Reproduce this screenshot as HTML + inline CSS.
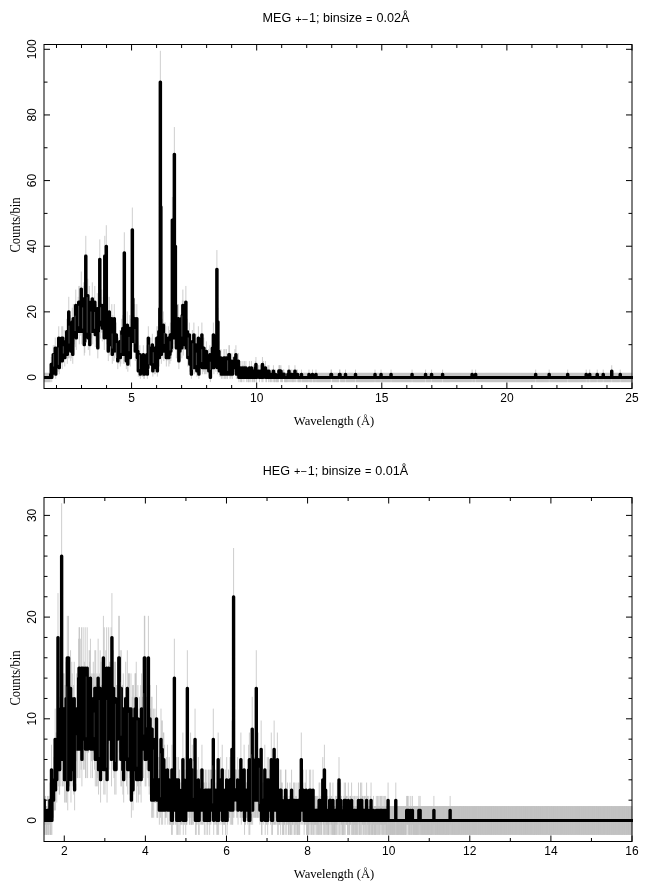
<!DOCTYPE html>
<html><head><meta charset="utf-8"><title>HETG spectra</title>
<style>
html,body{margin:0;padding:0;background:#fff;}
svg{display:block}
.t{font-family:"Liberation Sans",Arial,Helvetica,sans-serif;font-size:12px;fill:#000}
.s{font-family:"Liberation Serif","Times New Roman",Times,serif;font-size:12.6px;fill:#000}
.h{font-family:"Liberation Sans",Arial,Helvetica,sans-serif;font-size:12.6px;fill:#000}
</style></head><body>
<svg width="649" height="891" viewBox="0 0 649 891">
<rect width="649" height="891" fill="#fff"/>
<text class="h" x="336" y="22" text-anchor="middle">MEG <tspan font-size="11" dx="0.5" dy="0.7">+−</tspan><tspan dx="0.8" dy="-0.7">1; binsize </tspan><tspan font-size="11" dx="0.5" dy="0.7">=</tspan><tspan dx="0.5" dy="-0.7"> 0.02Å</tspan></text>
<svg x="44" y="44.5" width="589" height="344" viewBox="44 44.5 589 344">
<path d="M44.25 372.86V382.14M44.75 372.86V382.14M45.25 372.86V382.14M45.75 372.86V382.14M46.25 372.86V382.14M46.75 372.86V382.14M47.25 372.86V382.14M47.75 372.86V382.14M48.25 372.86V382.14M48.75 372.86V382.14M49.25 372.86V382.14M49.75 372.86V382.14M50.26 372.86V382.14M50.76 369.58V378.86M51.26 357.03V371.71M51.76 372.86V382.14M52.26 369.58V378.86M52.76 357.03V371.71M53.26 345.24V363.81M53.76 365.25V376.62M54.26 353.05V369.13M54.76 345.24V363.81M55.26 337.58V358.34M55.76 369.58V378.86M56.26 349.12V366.49M56.76 357.03V371.71M57.26 337.58V358.34M57.76 353.05V369.13M58.26 357.03V371.71M58.76 326.28V349.95M59.26 361.09V374.22M59.76 337.58V358.34M60.26 345.24V363.81M60.76 349.12V366.49M61.26 345.24V363.81M61.77 326.28V349.95M62.27 353.05V369.13M62.77 326.28V349.95M63.27 337.58V358.34M63.77 337.58V358.34M64.27 330.03V352.77M64.77 349.12V366.49M65.27 337.58V358.34M65.77 337.58V358.34M66.27 337.58V358.34M66.77 318.84V344.26M67.27 345.24V363.81M67.77 337.58V358.34M68.27 337.58V358.34M68.77 296.82V326.9M69.27 337.58V358.34M69.77 322.55V347.11M70.27 315.14V341.4M70.77 341.4V361.09M71.27 337.58V358.34M71.77 333.79V355.57M72.27 307.78V335.63M72.77 345.24V363.81M73.27 304.12V332.73M73.78 304.12V332.73M74.28 318.84V344.26M74.78 315.14V341.4M75.28 322.55V347.11M75.78 289.56V321.04M76.28 326.28V349.95M76.78 311.46V338.52M77.28 307.78V335.63M77.78 307.78V335.63M78.28 296.82V326.9M78.78 285.94V318.09M79.28 318.84V344.26M79.78 285.94V318.09M80.28 296.82V326.9M80.78 307.78V335.63M81.28 271.52V306.25M81.78 318.84V344.26M82.28 296.82V326.9M82.78 300.46V329.82M83.28 285.94V318.09M83.78 282.32V315.14M84.28 333.79V355.57M84.78 330.03V352.77M85.29 318.84V344.26M85.79 235.83V276.3M86.29 304.12V332.73M86.79 307.78V335.63M87.29 300.46V329.82M87.79 278.72V312.18M88.29 326.28V349.95M88.79 296.82V326.9M89.29 285.94V318.09M89.79 333.79V355.57M90.29 300.46V329.82M90.79 300.46V329.82M91.29 300.46V329.82M91.79 311.46V338.52M92.29 282.32V315.14M92.79 318.84V344.26M93.29 300.46V329.82M93.79 300.46V329.82M94.29 296.82V326.9M94.79 285.94V318.09M95.29 322.55V347.11M95.79 315.14V341.4M96.29 304.12V332.73M96.79 307.78V335.63M97.3 293.18V323.97M97.8 337.58V358.34M98.3 318.84V344.26M98.8 300.46V329.82M99.3 300.46V329.82M99.8 239.38V279.31M100.3 311.46V338.52M100.8 296.82V326.9M101.3 304.12V332.73M101.8 289.56V321.04M102.3 315.14V341.4M102.8 304.12V332.73M103.3 296.82V326.9M103.8 289.56V321.04M104.3 326.28V349.95M104.8 235.83V276.3M105.3 311.46V338.52M105.8 307.78V335.63M106.3 225.2V267.24M106.8 318.84V344.26M107.3 326.28V349.95M107.8 296.82V326.9M108.3 341.4V361.09M108.81 315.14V341.4M109.31 296.82V326.9M109.81 333.79V355.57M110.31 318.84V344.26M110.81 315.14V341.4M111.31 322.55V347.11M111.81 304.12V332.73M112.31 345.24V363.81M112.81 315.14V341.4M113.31 326.28V349.95M113.81 341.4V361.09M114.31 304.12V332.73M114.81 337.58V358.34M115.31 333.79V355.57M115.81 326.28V349.95M116.31 322.55V347.11M116.81 341.4V361.09M117.31 333.79V355.57M117.81 353.05V369.13M118.31 337.58V358.34M118.81 345.24V363.81M119.31 341.4V361.09M119.81 330.03V352.77M120.31 349.12V366.49M120.82 345.24V363.81M121.32 330.03V352.77M121.82 318.84V344.26M122.32 318.84V344.26M122.82 315.14V341.4M123.32 345.24V363.81M123.82 341.4V361.09M124.32 232.29V273.28M124.82 345.24V363.81M125.32 337.58V358.34M125.82 333.79V355.57M126.32 353.05V369.13M126.82 345.24V363.81M127.32 311.46V338.52M127.82 357.03V371.71M128.32 345.24V363.81M128.82 326.28V349.95M129.32 326.28V349.95M129.82 315.14V341.4M130.32 349.12V366.49M130.82 318.84V344.26M131.32 330.03V352.77M131.82 322.55V347.11M132.33 207.55V252.07M132.83 282.32V315.14M133.33 315.14V341.4M133.83 330.03V352.77M134.33 315.14V341.4M134.83 304.12V332.73M135.33 341.4V361.09M135.83 318.84V344.26M136.33 318.84V344.26M136.83 304.12V332.73M137.33 349.12V366.49M137.83 341.4V361.09M138.33 365.25V376.62M138.83 353.05V369.13M139.33 365.25V376.62M139.83 345.24V363.81M140.33 369.58V378.86M140.83 361.09V374.22M141.33 353.05V369.13M141.83 361.09V374.22M142.33 365.25V376.62M142.83 365.25V376.62M143.33 345.24V363.81M143.83 369.58V378.86M144.34 369.58V378.86M144.84 357.03V371.71M145.34 357.03V371.71M145.84 361.09V374.22M146.34 361.09V374.22M146.84 345.24V363.81M147.34 369.58V378.86M147.84 361.09V374.22M148.34 326.28V349.95M148.84 353.05V369.13M149.34 345.24V363.81M149.84 337.58V358.34M150.34 345.24V363.81M150.84 337.58V358.34M151.34 357.03V371.71M151.84 345.24V363.81M152.34 333.79V355.57M152.84 365.25V376.62M153.34 345.24V363.81M153.84 349.12V366.49M154.34 361.09V374.22M154.84 337.58V358.34M155.34 361.09V374.22M155.85 349.12V366.49M156.35 345.24V363.81M156.85 326.28V349.95M157.35 365.25V376.62M157.85 326.28V349.95M158.35 330.03V352.77M158.85 318.84V344.26M159.35 349.12V366.49M159.85 293.18V323.97M160.35 50.81V113.43M160.85 182.94V230.73M161.35 345.24V363.81M161.85 322.55V347.11M162.35 318.84V344.26M162.85 337.58V358.34M163.35 311.46V338.52M163.85 341.4V361.09M164.35 322.55V347.11M164.85 333.79V355.57M165.35 322.55V347.11M165.85 326.28V349.95M166.35 349.12V366.49M166.85 341.4V361.09M167.35 333.79V355.57M167.86 337.58V358.34M168.36 326.28V349.95M168.86 349.12V366.49M169.36 330.03V352.77M169.86 345.24V363.81M170.36 322.55V347.11M170.86 341.4V361.09M171.36 337.58V358.34M171.86 322.55V347.11M172.36 196.99V242.94M172.86 260.77V297.31M173.36 326.28V349.95M173.86 318.84V344.26M174.36 127.06V181.59M174.86 311.46V338.52M175.36 225.2V267.24M175.86 289.56V321.04M176.36 337.58V358.34M176.86 322.55V347.11M177.36 322.55V347.11M177.86 333.79V355.57M178.36 304.12V332.73M178.86 353.05V369.13M179.37 318.84V344.26M179.87 341.4V361.09M180.37 315.14V341.4M180.87 315.14V341.4M181.37 304.12V332.73M181.87 337.58V358.34M182.37 300.46V329.82M182.87 289.56V321.04M183.37 333.79V355.57M183.87 300.46V329.82M184.37 326.28V349.95M184.87 326.28V349.95M185.37 307.78V335.63M185.87 285.94V318.09M186.37 337.58V358.34M186.87 333.79V355.57M187.37 318.84V344.26M187.87 349.12V366.49M188.37 345.24V363.81M188.87 337.58V358.34M189.37 322.55V347.11M189.87 357.03V371.71M190.37 345.24V363.81M190.87 333.79V355.57M191.38 369.58V378.86M191.88 353.05V369.13M192.38 330.03V352.77M192.88 333.79V355.57M193.38 345.24V363.81M193.88 322.55V347.11M194.38 361.09V374.22M194.88 353.05V369.13M195.38 353.05V369.13M195.88 333.79V355.57M196.38 361.09V374.22M196.88 365.25V376.62M197.38 341.4V361.09M197.88 353.05V369.13M198.38 326.28V349.95M198.88 369.58V378.86M199.38 353.05V369.13M199.88 345.24V363.81M200.38 345.24V363.81M200.88 345.24V363.81M201.38 345.24V363.81M201.88 322.55V347.11M202.38 361.09V374.22M202.89 337.58V358.34M203.39 357.03V371.71M203.89 337.58V358.34M204.39 361.09V374.22M204.89 353.05V369.13M205.39 361.09V374.22M205.89 357.03V371.71M206.39 341.4V361.09M206.89 361.09V374.22M207.39 357.03V371.71M207.89 357.03V371.71M208.39 349.12V366.49M208.89 365.25V376.62M209.39 361.09V374.22M209.89 345.24V363.81M210.39 372.86V382.14M210.89 361.09V374.22M211.39 361.09V374.22M211.89 353.05V369.13M212.39 337.58V358.34M212.89 349.12V366.49M213.39 322.55V347.11M213.89 361.09V374.22M214.39 341.4V361.09M214.9 337.58V358.34M215.4 333.79V355.57M215.9 357.03V371.71M216.4 349.12V366.49M216.9 250.06V288.33M217.4 361.09V374.22M217.9 307.78V335.63M218.4 357.03V371.71M218.9 341.4V361.09M219.4 365.25V376.62M219.9 361.09V374.22M220.4 365.25V376.62M220.9 349.12V366.49M221.4 369.58V378.86M221.9 365.25V376.62M222.4 357.03V371.71M222.9 369.58V378.86M223.4 361.09V374.22M223.9 349.12V366.49M224.4 369.58V378.86M224.9 349.12V366.49M225.4 369.58V378.86M225.9 361.09V374.22M226.41 349.12V366.49M226.91 369.58V378.86M227.41 369.58V378.86M227.91 361.09V374.22M228.41 361.09V374.22M228.91 345.24V363.81M229.41 345.24V363.81M229.91 369.58V378.86M230.41 365.25V376.62M230.91 369.58V378.86M231.41 365.25V376.62M231.91 353.05V369.13M232.41 369.58V378.86M232.91 357.03V371.71M233.41 357.03V371.71M233.91 357.03V371.71M234.41 357.03V371.71M234.91 349.12V366.49M235.41 361.09V374.22M235.91 345.24V363.81M236.41 369.58V378.86M236.91 361.09V374.22M237.41 361.09V374.22M237.91 369.58V378.86M238.42 353.05V369.13M238.92 372.86V382.14M239.42 365.25V376.62M239.92 369.58V378.86M240.42 372.86V382.14M240.92 361.09V374.22M241.42 372.86V382.14M241.92 372.86V382.14M242.42 365.25V376.62M242.92 361.09V374.22M243.42 365.25V376.62M243.92 372.86V382.14M244.42 361.09V374.22M244.92 369.58V378.86M245.42 365.25V376.62M245.92 361.09V374.22M246.42 372.86V382.14M246.92 369.58V378.86M247.42 369.58V378.86M247.92 372.86V382.14M248.42 372.86V382.14M248.92 372.86V382.14M249.42 361.09V374.22M249.93 372.86V382.14M250.43 369.58V378.86M250.93 372.86V382.14M251.43 361.09V374.22M251.93 369.58V378.86M252.43 372.86V382.14M252.93 372.86V382.14M253.43 365.25V376.62M253.93 372.86V382.14M254.43 372.86V382.14M254.93 372.86V382.14M255.43 361.09V374.22M255.93 357.03V371.71M256.43 372.86V382.14M256.93 365.25V376.62M257.43 369.58V378.86M257.93 369.58V378.86M258.43 365.25V376.62M258.93 365.25V376.62M259.43 372.86V382.14M259.93 369.58V378.86M260.43 365.25V376.62M260.93 365.25V376.62M261.43 369.58V378.86M261.94 372.86V382.14M262.44 357.03V371.71M262.94 372.86V382.14M263.44 361.09V374.22M263.94 369.58V378.86M264.44 365.25V376.62M264.94 369.58V378.86M265.44 361.09V374.22M265.94 372.86V382.14M266.44 372.86V382.14M266.94 369.58V378.86M267.44 369.58V378.86M267.94 365.25V376.62M268.44 372.86V382.14M268.94 365.25V376.62M269.44 369.58V378.86M269.94 372.86V382.14M270.44 372.86V382.14M270.94 369.58V378.86M271.44 372.86V382.14M271.94 369.58V378.86M272.44 369.58V378.86M272.94 372.86V382.14M273.45 365.25V376.62M273.95 372.86V382.14M274.45 372.86V382.14M274.95 372.86V382.14M275.45 369.58V378.86M275.95 372.86V382.14M276.45 372.86V382.14M276.95 372.86V382.14M277.45 372.86V382.14M277.95 372.86V382.14M278.45 372.86V382.14M278.95 365.25V376.62M279.45 365.25V376.62M279.95 365.25V376.62M280.45 372.86V382.14M280.95 365.25V376.62M281.45 372.86V382.14M281.95 372.86V382.14M282.45 372.86V382.14M282.95 369.58V378.86M283.45 369.58V378.86M283.95 369.58V378.86M284.45 372.86V382.14M284.95 372.86V382.14M285.46 372.86V382.14M285.96 372.86V382.14M286.46 372.86V382.14M286.96 372.86V382.14M287.46 372.86V382.14M287.96 369.58V378.86M288.46 372.86V382.14M288.96 365.25V376.62M289.46 372.86V382.14M289.96 369.58V378.86M290.46 372.86V382.14M290.96 369.58V378.86M291.46 372.86V382.14M291.96 369.58V378.86M292.46 372.86V382.14M292.96 372.86V382.14M293.46 372.86V382.14M293.96 369.58V378.86M294.46 372.86V382.14M294.96 365.25V376.62M295.46 372.86V382.14M295.96 369.58V378.86M296.46 369.58V378.86M296.97 372.86V382.14M297.47 369.58V378.86M297.97 372.86V382.14M298.47 372.86V382.14M298.97 372.86V382.14M299.47 372.86V382.14M299.97 372.86V382.14M300.47 372.86V382.14M300.97 372.86V382.14M301.47 369.58V378.86M301.97 372.86V382.14M302.47 372.86V382.14M302.97 372.86V382.14M303.47 372.86V382.14M303.97 372.86V382.14M304.47 372.86V382.14M304.97 372.86V382.14M305.47 372.86V382.14M305.97 372.86V382.14M306.47 372.86V382.14M306.97 372.86V382.14M307.47 372.86V382.14M307.97 372.86V382.14M308.47 372.86V382.14M308.98 369.58V378.86M309.48 372.86V382.14M309.98 372.86V382.14M310.48 372.86V382.14M310.98 372.86V382.14M311.48 372.86V382.14M311.98 372.86V382.14M312.48 369.58V378.86M312.98 372.86V382.14M313.48 372.86V382.14M313.98 372.86V382.14M314.48 372.86V382.14M314.98 372.86V382.14M315.48 372.86V382.14M315.98 369.58V378.86M316.48 372.86V382.14M316.98 372.86V382.14M317.48 372.86V382.14M317.98 372.86V382.14M318.48 372.86V382.14M318.98 372.86V382.14M319.48 372.86V382.14M319.98 372.86V382.14M320.49 372.86V382.14M320.99 372.86V382.14M321.49 372.86V382.14M321.99 372.86V382.14M322.49 372.86V382.14M322.99 372.86V382.14M323.49 372.86V382.14M323.99 372.86V382.14M324.49 372.86V382.14M324.99 372.86V382.14M325.49 372.86V382.14M325.99 372.86V382.14M326.49 372.86V382.14M326.99 372.86V382.14M327.49 372.86V382.14M327.99 372.86V382.14M328.49 372.86V382.14M328.99 372.86V382.14M329.49 372.86V382.14M329.99 372.86V382.14M330.49 372.86V382.14M330.99 369.58V378.86M331.49 369.58V378.86M331.99 372.86V382.14M332.5 372.86V382.14M333 372.86V382.14M333.5 372.86V382.14M334 372.86V382.14M334.5 372.86V382.14M335 372.86V382.14M335.5 372.86V382.14M336 372.86V382.14M336.5 372.86V382.14M337 372.86V382.14M337.5 372.86V382.14M338 372.86V382.14M338.5 372.86V382.14M339 372.86V382.14M339.5 369.58V378.86M340 369.58V378.86M340.5 372.86V382.14M341 372.86V382.14M341.5 372.86V382.14M342 372.86V382.14M342.5 372.86V382.14M343 372.86V382.14M343.5 372.86V382.14M344.01 372.86V382.14M344.51 372.86V382.14M345.01 372.86V382.14M345.51 369.58V378.86M346.01 372.86V382.14M346.51 372.86V382.14M347.01 372.86V382.14M347.51 372.86V382.14M348.01 372.86V382.14M348.51 372.86V382.14M349.01 372.86V382.14M349.51 372.86V382.14M350.01 372.86V382.14M350.51 372.86V382.14M351.01 372.86V382.14M351.51 372.86V382.14M352.01 372.86V382.14M352.51 372.86V382.14M353.01 372.86V382.14M353.51 372.86V382.14M354.01 372.86V382.14M354.51 372.86V382.14M355.01 372.86V382.14M355.51 369.58V378.86M356.02 372.86V382.14M356.52 372.86V382.14M357.02 372.86V382.14M357.52 372.86V382.14M358.02 372.86V382.14M358.52 372.86V382.14M359.02 372.86V382.14M359.52 372.86V382.14M360.02 372.86V382.14M360.52 372.86V382.14M361.02 372.86V382.14M361.52 372.86V382.14M362.02 372.86V382.14M362.52 372.86V382.14M363.02 372.86V382.14M363.52 372.86V382.14M364.02 372.86V382.14M364.52 372.86V382.14M365.02 372.86V382.14M365.52 372.86V382.14M366.02 372.86V382.14M366.52 372.86V382.14M367.02 372.86V382.14M367.53 372.86V382.14M368.03 372.86V382.14M368.53 372.86V382.14M369.03 372.86V382.14M369.53 372.86V382.14M370.03 372.86V382.14M370.53 372.86V382.14M371.03 372.86V382.14M371.53 372.86V382.14M372.03 372.86V382.14M372.53 372.86V382.14M373.03 372.86V382.14M373.53 372.86V382.14M374.03 372.86V382.14M374.53 372.86V382.14M375.03 369.58V378.86M375.53 372.86V382.14M376.03 372.86V382.14M376.53 372.86V382.14M377.03 372.86V382.14M377.53 372.86V382.14M378.03 372.86V382.14M378.53 372.86V382.14M379.03 372.86V382.14M379.54 372.86V382.14M380.04 372.86V382.14M380.54 372.86V382.14M381.04 369.58V378.86M381.54 372.86V382.14M382.04 372.86V382.14M382.54 372.86V382.14M383.04 372.86V382.14M383.54 372.86V382.14M384.04 372.86V382.14M384.54 372.86V382.14M385.04 372.86V382.14M385.54 372.86V382.14M386.04 372.86V382.14M386.54 372.86V382.14M387.04 372.86V382.14M387.54 372.86V382.14M388.04 372.86V382.14M388.54 372.86V382.14M389.04 372.86V382.14M389.54 372.86V382.14M390.04 372.86V382.14M390.54 372.86V382.14M391.05 369.58V378.86M391.55 372.86V382.14M392.05 372.86V382.14M392.55 372.86V382.14M393.05 372.86V382.14M393.55 372.86V382.14M394.05 372.86V382.14M394.55 372.86V382.14M395.05 372.86V382.14M395.55 372.86V382.14M396.05 372.86V382.14M396.55 372.86V382.14M397.05 372.86V382.14M397.55 372.86V382.14M398.05 372.86V382.14M398.55 372.86V382.14M399.05 372.86V382.14M399.55 372.86V382.14M400.05 372.86V382.14M400.55 372.86V382.14M401.05 372.86V382.14M401.55 372.86V382.14M402.05 372.86V382.14M402.55 372.86V382.14M403.06 372.86V382.14M403.56 372.86V382.14M404.06 372.86V382.14M404.56 372.86V382.14M405.06 372.86V382.14M405.56 372.86V382.14M406.06 372.86V382.14M406.56 372.86V382.14M407.06 372.86V382.14M407.56 372.86V382.14M408.06 372.86V382.14M408.56 372.86V382.14M409.06 372.86V382.14M409.56 372.86V382.14M410.06 372.86V382.14M410.56 372.86V382.14M411.06 372.86V382.14M411.56 372.86V382.14M412.06 369.58V378.86M412.56 372.86V382.14M413.06 372.86V382.14M413.56 372.86V382.14M414.06 372.86V382.14M414.57 372.86V382.14M415.07 372.86V382.14M415.57 372.86V382.14M416.07 372.86V382.14M416.57 372.86V382.14M417.07 372.86V382.14M417.57 372.86V382.14M418.07 372.86V382.14M418.57 372.86V382.14M419.07 372.86V382.14M419.57 372.86V382.14M420.07 372.86V382.14M420.57 372.86V382.14M421.07 372.86V382.14M421.57 372.86V382.14M422.07 372.86V382.14M422.57 372.86V382.14M423.07 372.86V382.14M423.57 372.86V382.14M424.07 372.86V382.14M424.57 372.86V382.14M425.07 372.86V382.14M425.57 369.58V378.86M426.07 372.86V382.14M426.58 372.86V382.14M427.08 372.86V382.14M427.58 372.86V382.14M428.08 372.86V382.14M428.58 372.86V382.14M429.08 372.86V382.14M429.58 372.86V382.14M430.08 372.86V382.14M430.58 372.86V382.14M431.08 372.86V382.14M431.58 369.58V378.86M432.08 372.86V382.14M432.58 372.86V382.14M433.08 372.86V382.14M433.58 372.86V382.14M434.08 372.86V382.14M434.58 372.86V382.14M435.08 372.86V382.14M435.58 372.86V382.14M436.08 372.86V382.14M436.58 372.86V382.14M437.08 372.86V382.14M437.58 372.86V382.14M438.09 372.86V382.14M438.59 372.86V382.14M439.09 372.86V382.14M439.59 372.86V382.14M440.09 372.86V382.14M440.59 372.86V382.14M441.09 372.86V382.14M441.59 372.86V382.14M442.09 372.86V382.14M442.59 369.58V378.86M443.09 372.86V382.14M443.59 372.86V382.14M444.09 372.86V382.14M444.59 372.86V382.14M445.09 372.86V382.14M445.59 372.86V382.14M446.09 372.86V382.14M446.59 372.86V382.14M447.09 372.86V382.14M447.59 372.86V382.14M448.09 372.86V382.14M448.59 372.86V382.14M449.09 372.86V382.14M449.59 372.86V382.14M450.1 372.86V382.14M450.6 372.86V382.14M451.1 372.86V382.14M451.6 372.86V382.14M452.1 372.86V382.14M452.6 372.86V382.14M453.1 372.86V382.14M453.6 372.86V382.14M454.1 372.86V382.14M454.6 372.86V382.14M455.1 372.86V382.14M455.6 372.86V382.14M456.1 372.86V382.14M456.6 372.86V382.14M457.1 372.86V382.14M457.6 372.86V382.14M458.1 372.86V382.14M458.6 372.86V382.14M459.1 372.86V382.14M459.6 372.86V382.14M460.1 372.86V382.14M460.6 372.86V382.14M461.1 372.86V382.14M461.61 372.86V382.14M462.11 372.86V382.14M462.61 372.86V382.14M463.11 372.86V382.14M463.61 372.86V382.14M464.11 372.86V382.14M464.61 372.86V382.14M465.11 372.86V382.14M465.61 372.86V382.14M466.11 372.86V382.14M466.61 372.86V382.14M467.11 372.86V382.14M467.61 372.86V382.14M468.11 372.86V382.14M468.61 372.86V382.14M469.11 372.86V382.14M469.61 372.86V382.14M470.11 372.86V382.14M470.61 372.86V382.14M471.11 372.86V382.14M471.61 372.86V382.14M472.11 369.58V378.86M472.61 372.86V382.14M473.11 372.86V382.14M473.62 372.86V382.14M474.12 372.86V382.14M474.62 372.86V382.14M475.12 372.86V382.14M475.62 369.58V378.86M476.12 372.86V382.14M476.62 372.86V382.14M477.12 372.86V382.14M477.62 372.86V382.14M478.12 372.86V382.14M478.62 372.86V382.14M479.12 372.86V382.14M479.62 372.86V382.14M480.12 372.86V382.14M480.62 372.86V382.14M481.12 372.86V382.14M481.62 372.86V382.14M482.12 372.86V382.14M482.62 372.86V382.14M483.12 372.86V382.14M483.62 372.86V382.14M484.12 372.86V382.14M484.62 372.86V382.14M485.13 372.86V382.14M485.63 372.86V382.14M486.13 372.86V382.14M486.63 372.86V382.14M487.13 372.86V382.14M487.63 372.86V382.14M488.13 372.86V382.14M488.63 372.86V382.14M489.13 372.86V382.14M489.63 372.86V382.14M490.13 372.86V382.14M490.63 372.86V382.14M491.13 372.86V382.14M491.63 372.86V382.14M492.13 372.86V382.14M492.63 372.86V382.14M493.13 372.86V382.14M493.63 372.86V382.14M494.13 372.86V382.14M494.63 372.86V382.14M495.13 372.86V382.14M495.63 372.86V382.14M496.13 372.86V382.14M496.63 372.86V382.14M497.14 372.86V382.14M497.64 372.86V382.14M498.14 372.86V382.14M498.64 372.86V382.14M499.14 372.86V382.14M499.64 372.86V382.14M500.14 372.86V382.14M500.64 372.86V382.14M501.14 372.86V382.14M501.64 372.86V382.14M502.14 372.86V382.14M502.64 372.86V382.14M503.14 372.86V382.14M503.64 372.86V382.14M504.14 372.86V382.14M504.64 372.86V382.14M505.14 372.86V382.14M505.64 372.86V382.14M506.14 372.86V382.14M506.64 372.86V382.14M507.14 372.86V382.14M507.64 372.86V382.14M508.14 372.86V382.14M508.65 372.86V382.14M509.15 372.86V382.14M509.65 372.86V382.14M510.15 372.86V382.14M510.65 372.86V382.14M511.15 372.86V382.14M511.65 372.86V382.14M512.15 372.86V382.14M512.65 372.86V382.14M513.15 372.86V382.14M513.65 372.86V382.14M514.15 372.86V382.14M514.65 372.86V382.14M515.15 372.86V382.14M515.65 372.86V382.14M516.15 372.86V382.14M516.65 372.86V382.14M517.15 372.86V382.14M517.65 372.86V382.14M518.15 372.86V382.14M518.65 372.86V382.14M519.15 372.86V382.14M519.65 372.86V382.14M520.15 372.86V382.14M520.66 372.86V382.14M521.16 372.86V382.14M521.66 372.86V382.14M522.16 372.86V382.14M522.66 372.86V382.14M523.16 372.86V382.14M523.66 372.86V382.14M524.16 372.86V382.14M524.66 372.86V382.14M525.16 372.86V382.14M525.66 372.86V382.14M526.16 372.86V382.14M526.66 372.86V382.14M527.16 372.86V382.14M527.66 372.86V382.14M528.16 372.86V382.14M528.66 372.86V382.14M529.16 372.86V382.14M529.66 372.86V382.14M530.16 372.86V382.14M530.66 372.86V382.14M531.16 372.86V382.14M531.66 372.86V382.14M532.17 372.86V382.14M532.67 372.86V382.14M533.17 372.86V382.14M533.67 372.86V382.14M534.17 372.86V382.14M534.67 372.86V382.14M535.17 372.86V382.14M535.67 369.58V378.86M536.17 372.86V382.14M536.67 372.86V382.14M537.17 372.86V382.14M537.67 372.86V382.14M538.17 372.86V382.14M538.67 372.86V382.14M539.17 372.86V382.14M539.67 372.86V382.14M540.17 372.86V382.14M540.67 372.86V382.14M541.17 372.86V382.14M541.67 372.86V382.14M542.17 372.86V382.14M542.67 372.86V382.14M543.17 372.86V382.14M543.67 372.86V382.14M544.18 372.86V382.14M544.68 372.86V382.14M545.18 372.86V382.14M545.68 372.86V382.14M546.18 372.86V382.14M546.68 372.86V382.14M547.18 372.86V382.14M547.68 372.86V382.14M548.18 372.86V382.14M548.68 372.86V382.14M549.18 369.58V378.86M549.68 372.86V382.14M550.18 372.86V382.14M550.68 372.86V382.14M551.18 372.86V382.14M551.68 372.86V382.14M552.18 372.86V382.14M552.68 372.86V382.14M553.18 372.86V382.14M553.68 372.86V382.14M554.18 372.86V382.14M554.68 372.86V382.14M555.18 372.86V382.14M555.69 372.86V382.14M556.19 372.86V382.14M556.69 372.86V382.14M557.19 372.86V382.14M557.69 372.86V382.14M558.19 372.86V382.14M558.69 372.86V382.14M559.19 372.86V382.14M559.69 372.86V382.14M560.19 372.86V382.14M560.69 372.86V382.14M561.19 372.86V382.14M561.69 372.86V382.14M562.19 372.86V382.14M562.69 372.86V382.14M563.19 372.86V382.14M563.69 372.86V382.14M564.19 372.86V382.14M564.69 372.86V382.14M565.19 372.86V382.14M565.69 372.86V382.14M566.19 372.86V382.14M566.69 372.86V382.14M567.19 372.86V382.14M567.7 369.58V378.86M568.2 372.86V382.14M568.7 372.86V382.14M569.2 372.86V382.14M569.7 372.86V382.14M570.2 372.86V382.14M570.7 372.86V382.14M571.2 372.86V382.14M571.7 372.86V382.14M572.2 372.86V382.14M572.7 372.86V382.14M573.2 372.86V382.14M573.7 372.86V382.14M574.2 372.86V382.14M574.7 372.86V382.14M575.2 372.86V382.14M575.7 372.86V382.14M576.2 372.86V382.14M576.7 372.86V382.14M577.2 372.86V382.14M577.7 372.86V382.14M578.2 372.86V382.14M578.7 372.86V382.14M579.21 372.86V382.14M579.71 372.86V382.14M580.21 372.86V382.14M580.71 372.86V382.14M581.21 372.86V382.14M581.71 372.86V382.14M582.21 372.86V382.14M582.71 372.86V382.14M583.21 372.86V382.14M583.71 372.86V382.14M584.21 372.86V382.14M584.71 372.86V382.14M585.21 372.86V382.14M585.71 372.86V382.14M586.21 369.58V378.86M586.71 372.86V382.14M587.21 372.86V382.14M587.71 372.86V382.14M588.21 372.86V382.14M588.71 372.86V382.14M589.21 372.86V382.14M589.71 369.58V378.86M590.21 372.86V382.14M590.71 372.86V382.14M591.22 372.86V382.14M591.72 372.86V382.14M592.22 372.86V382.14M592.72 372.86V382.14M593.22 372.86V382.14M593.72 372.86V382.14M594.22 372.86V382.14M594.72 372.86V382.14M595.22 372.86V382.14M595.72 372.86V382.14M596.22 372.86V382.14M596.72 372.86V382.14M597.22 369.58V378.86M597.72 372.86V382.14M598.22 372.86V382.14M598.72 372.86V382.14M599.22 372.86V382.14M599.72 372.86V382.14M600.22 372.86V382.14M600.72 372.86V382.14M601.22 372.86V382.14M601.72 372.86V382.14M602.22 372.86V382.14M602.73 372.86V382.14M603.23 369.58V378.86M603.73 372.86V382.14M604.23 372.86V382.14M604.73 372.86V382.14M605.23 372.86V382.14M605.73 372.86V382.14M606.23 372.86V382.14M606.73 372.86V382.14M607.23 372.86V382.14M607.73 372.86V382.14M608.23 372.86V382.14M608.73 372.86V382.14M609.23 372.86V382.14M609.73 372.86V382.14M610.23 372.86V382.14M610.73 372.86V382.14M611.23 372.86V382.14M611.73 365.25V376.62M612.23 372.86V382.14M612.73 372.86V382.14M613.23 372.86V382.14M613.73 372.86V382.14M614.23 372.86V382.14M614.74 372.86V382.14M615.24 372.86V382.14M615.74 372.86V382.14M616.24 372.86V382.14M616.74 372.86V382.14M617.24 372.86V382.14M617.74 372.86V382.14M618.24 372.86V382.14M618.74 372.86V382.14M619.24 372.86V382.14M619.74 372.86V382.14M620.24 369.58V378.86M620.74 372.86V382.14M621.24 372.86V382.14M621.74 372.86V382.14M622.24 372.86V382.14M622.74 372.86V382.14M623.24 372.86V382.14M623.74 372.86V382.14M624.24 372.86V382.14M624.74 372.86V382.14M625.24 372.86V382.14M625.74 372.86V382.14M626.25 372.86V382.14M626.75 372.86V382.14M627.25 372.86V382.14M627.75 372.86V382.14M628.25 372.86V382.14M628.75 372.86V382.14M629.25 372.86V382.14M629.75 372.86V382.14M630.25 372.86V382.14M630.75 372.86V382.14M631.25 372.86V382.14M631.75 372.86V382.14" stroke="#bebebe" stroke-width="0.75" fill="none"/>
<path d="M44 377.5H50.51V374.22H51.01V364.37H51.51V377.5H52.01V374.22H52.51V364.37H53.01V354.53H53.51V370.94H54.01V361.09H54.51V354.53H55.01V347.96H55.51V374.22H56.01V357.81H56.51V364.37H57.01V347.96H57.51V361.09H58.01V364.37H58.51V338.12H59.01V367.65H59.51V347.96H60.01V354.53H60.51V357.81H61.01V354.53H61.51V338.12H62.02V361.09H62.52V338.12H63.02V347.96H64.02V341.4H64.52V357.81H65.02V347.96H66.52V331.55H67.02V354.53H67.52V347.96H68.52V311.86H69.02V347.96H69.52V334.83H70.02V328.27H70.52V351.24H71.02V347.96H71.52V344.68H72.02V321.71H72.52V354.53H73.02V318.42H74.03V331.55H74.53V328.27H75.03V334.83H75.53V305.3H76.03V338.12H76.53V324.99H77.03V321.71H78.03V311.86H78.53V302.01H79.03V331.55H79.53V302.01H80.03V311.86H80.53V321.71H81.03V288.89H81.53V331.55H82.03V311.86H82.53V315.14H83.03V302.01H83.53V298.73H84.03V344.68H84.53V341.4H85.03V331.55H85.54V256.07H86.04V318.42H86.54V321.71H87.04V315.14H87.54V295.45H88.04V338.12H88.54V311.86H89.04V302.01H89.54V344.68H90.04V315.14H91.54V324.99H92.04V298.73H92.54V331.55H93.04V315.14H94.04V311.86H94.54V302.01H95.04V334.83H95.54V328.27H96.04V318.42H96.54V321.71H97.05V308.58H97.55V347.96H98.05V331.55H98.55V315.14H99.55V259.35H100.05V324.99H100.55V311.86H101.05V318.42H101.55V305.3H102.05V328.27H102.55V318.42H103.05V311.86H103.55V305.3H104.05V338.12H104.55V256.07H105.05V324.99H105.55V321.71H106.05V246.22H106.55V331.55H107.05V338.12H107.55V311.86H108.05V351.24H108.55V328.27H109.06V311.86H109.56V344.68H110.06V331.55H110.56V328.27H111.06V334.83H111.56V318.42H112.06V354.53H112.56V328.27H113.06V338.12H113.56V351.24H114.06V318.42H114.56V347.96H115.06V344.68H115.56V338.12H116.06V334.83H116.56V351.24H117.06V344.68H117.56V361.09H118.06V347.96H118.56V354.53H119.06V351.24H119.56V341.4H120.06V357.81H120.57V354.53H121.07V341.4H121.57V331.55H122.57V328.27H123.07V354.53H123.57V351.24H124.07V252.78H124.57V354.53H125.07V347.96H125.57V344.68H126.07V361.09H126.57V354.53H127.07V324.99H127.57V364.37H128.07V354.53H128.57V338.12H129.57V328.27H130.07V357.81H130.57V331.55H131.07V341.4H131.57V334.83H132.07V229.81H132.58V298.73H133.08V328.27H133.58V341.4H134.08V328.27H134.58V318.42H135.08V351.24H135.58V331.55H136.58V318.42H137.08V357.81H137.58V351.24H138.08V370.94H138.58V361.09H139.08V370.94H139.58V354.53H140.08V374.22H140.58V367.65H141.08V361.09H141.58V367.65H142.08V370.94H143.08V354.53H143.58V374.22H144.59V364.37H145.59V367.65H146.59V354.53H147.09V374.22H147.59V367.65H148.09V338.12H148.59V361.09H149.09V354.53H149.59V347.96H150.09V354.53H150.59V347.96H151.09V364.37H151.59V354.53H152.09V344.68H152.59V370.94H153.09V354.53H153.59V357.81H154.09V367.65H154.59V347.96H155.09V367.65H155.59V357.81H156.1V354.53H156.6V338.12H157.1V370.94H157.6V338.12H158.1V341.4H158.6V331.55H159.1V357.81H159.6V308.58H160.1V82.12H160.6V206.84H161.1V354.53H161.6V334.83H162.1V331.55H162.6V347.96H163.1V324.99H163.6V351.24H164.1V334.83H164.6V344.68H165.1V334.83H165.6V338.12H166.1V357.81H166.6V351.24H167.1V344.68H167.61V347.96H168.11V338.12H168.61V357.81H169.11V341.4H169.61V354.53H170.11V334.83H170.61V351.24H171.11V347.96H171.61V334.83H172.11V219.96H172.61V279.04H173.11V338.12H173.61V331.55H174.11V154.32H174.61V324.99H175.11V246.22H175.61V305.3H176.11V347.96H176.61V334.83H177.61V344.68H178.11V318.42H178.61V361.09H179.11V331.55H179.62V351.24H180.12V328.27H181.12V318.42H181.62V347.96H182.12V315.14H182.62V305.3H183.12V344.68H183.62V315.14H184.12V338.12H185.12V321.71H185.62V302.01H186.12V347.96H186.62V344.68H187.12V331.55H187.62V357.81H188.12V354.53H188.62V347.96H189.12V334.83H189.62V364.37H190.12V354.53H190.62V344.68H191.13V374.22H191.63V361.09H192.13V341.4H192.63V344.68H193.13V354.53H193.63V334.83H194.13V367.65H194.63V361.09H195.63V344.68H196.13V367.65H196.63V370.94H197.13V351.24H197.63V361.09H198.13V338.12H198.63V374.22H199.13V361.09H199.63V354.53H201.63V334.83H202.13V367.65H202.63V347.96H203.14V364.37H203.64V347.96H204.14V367.65H204.64V361.09H205.14V367.65H205.64V364.37H206.14V351.24H206.64V367.65H207.14V364.37H208.14V357.81H208.64V370.94H209.14V367.65H209.64V354.53H210.14V377.5H210.64V367.65H211.64V361.09H212.14V347.96H212.64V357.81H213.14V334.83H213.64V367.65H214.14V351.24H214.65V347.96H215.15V344.68H215.65V364.37H216.15V357.81H216.65V269.19H217.15V367.65H217.65V321.71H218.15V364.37H218.65V351.24H219.15V370.94H219.65V367.65H220.15V370.94H220.65V357.81H221.15V374.22H221.65V370.94H222.15V364.37H222.65V374.22H223.15V367.65H223.65V357.81H224.15V374.22H224.65V357.81H225.15V374.22H225.65V367.65H226.15V357.81H226.66V374.22H227.66V367.65H228.66V354.53H229.66V374.22H230.16V370.94H230.66V374.22H231.16V370.94H231.66V361.09H232.16V374.22H232.66V364.37H234.66V357.81H235.16V367.65H235.66V354.53H236.16V374.22H236.66V367.65H237.66V374.22H238.17V361.09H238.67V377.5H239.17V370.94H239.67V374.22H240.17V377.5H240.67V367.65H241.17V377.5H242.17V370.94H242.67V367.65H243.17V370.94H243.67V377.5H244.17V367.65H244.67V374.22H245.17V370.94H245.67V367.65H246.17V377.5H246.67V374.22H247.67V377.5H249.17V367.65H249.67V377.5H250.18V374.22H250.68V377.5H251.18V367.65H251.68V374.22H252.18V377.5H253.18V370.94H253.68V377.5H255.18V367.65H255.68V364.37H256.18V377.5H256.68V370.94H257.18V374.22H258.18V370.94H259.18V377.5H259.68V374.22H260.18V370.94H261.18V374.22H261.69V377.5H262.19V364.37H262.69V377.5H263.19V367.65H263.69V374.22H264.19V370.94H264.69V374.22H265.19V367.65H265.69V377.5H266.69V374.22H267.69V370.94H268.19V377.5H268.69V370.94H269.19V374.22H269.69V377.5H270.69V374.22H271.19V377.5H271.69V374.22H272.69V377.5H273.19V370.94H273.7V377.5H275.2V374.22H275.7V377.5H278.7V370.94H280.2V377.5H280.7V370.94H281.2V377.5H282.7V374.22H284.2V377.5H287.71V374.22H288.21V377.5H288.71V370.94H289.21V377.5H289.71V374.22H290.21V377.5H290.71V374.22H291.21V377.5H291.71V374.22H292.21V377.5H293.71V374.22H294.21V377.5H294.71V370.94H295.21V377.5H295.71V374.22H296.71V377.5H297.22V374.22H297.72V377.5H301.22V374.22H301.72V377.5H308.73V374.22H309.23V377.5H312.23V374.22H312.73V377.5H315.73V374.22H316.23V377.5H330.74V374.22H331.74V377.5H339.25V374.22H340.25V377.5H345.26V374.22H345.76V377.5H355.26V374.22H355.77V377.5H374.78V374.22H375.28V377.5H380.79V374.22H381.29V377.5H390.79V374.22H391.3V377.5H411.81V374.22H412.31V377.5H425.32V374.22H425.82V377.5H431.33V374.22H431.83V377.5H442.34V374.22H442.84V377.5H471.86V374.22H472.36V377.5H475.37V374.22H475.87V377.5H535.42V374.22H535.92V377.5H548.93V374.22H549.43V377.5H567.45V374.22H567.95V377.5H585.96V374.22H586.46V377.5H589.46V374.22H589.96V377.5H596.97V374.22H597.47V377.5H602.98V374.22H603.48V377.5H611.48V370.94H611.98V377.5H619.99V374.22H620.49V377.5H632" stroke="#000" stroke-width="3.0" fill="none" stroke-linejoin="round" stroke-linecap="butt"/>
<path d="M43 377.5H51.51M64.02 347.96H67.52M89.04 315.14H92.54M198.63 354.53H202.63M231.66 364.37H235.66M246.67 377.5H250.17M252.68 377.5H256.18M272.7 377.5H276.2M274.7 377.5H279.7M277.7 370.94H281.2M280.2 377.5H283.7M281.7 374.22H285.2M283.2 377.5H288.71M291.21 377.5H294.71M296.72 377.5H302.22M300.72 377.5H309.73M308.23 377.5H313.23M311.73 377.5H316.73M315.23 377.5H331.74M330.74 377.5H340.25M339.25 377.5H346.26M344.76 377.5H356.26M354.77 377.5H375.78M374.28 377.5H381.79M380.29 377.5H391.79M390.3 377.5H412.81M411.31 377.5H426.32M424.82 377.5H432.33M430.83 377.5H443.34M441.84 377.5H472.86M471.36 377.5H476.37M474.87 377.5H536.42M534.92 377.5H549.93M548.43 377.5H568.45M566.95 377.5H586.96M585.46 377.5H590.46M588.96 377.5H597.97M596.47 377.5H603.98M602.48 377.5H612.48M610.98 377.5H620.99M619.49 377.5H633" stroke="#000" stroke-width="3" fill="none"/>
<path d="M53.6 353.86V366.5M58.36 347.45V364.9M63.32 346.26V353.49M69.01 325.67V343.54M75.08 315.67V331.04M78.64 305.77V326.21M82.62 307.42V328.55M87.15 297.12V332.76M90.9 311.56V333.31M94.57 311.94V328.81M100.62 307.27V320.65M112.12 333.52V348.51M116.34 343.05V357.98M120.93 334.7V352.92M129.02 336.93V351.17M134.89 329.01V343.51M139.48 354.75V369.11M148.86 344.57V364.33M153.26 352.23V363.15M164.26 332.92V343.91M170.06 341.24V350.45M181.86 315.54V336.58M188.21 337.53V355.91M192.8 343.19V370.08M196.36 352.64V365.11M201.73 349.22V362.07M210.34 361.78V370.01M227.61 360.35V370.92" stroke="#fff" stroke-opacity="0.5" stroke-width="0.55" fill="none"/>
</svg>
<rect x="44" y="44.5" width="588" height="344" fill="none" stroke="#000" stroke-width="1"/>
<path d="M56.51 44.5v3.5M56.51 388.5v-3.5M81.53 44.5v3.5M81.53 388.5v-3.5M106.55 44.5v3.5M106.55 388.5v-3.5M131.57 44.5v6M131.57 388.5v-6M156.6 44.5v3.5M156.6 388.5v-3.5M181.62 44.5v3.5M181.62 388.5v-3.5M206.64 44.5v3.5M206.64 388.5v-3.5M231.66 44.5v3.5M231.66 388.5v-3.5M256.68 44.5v6M256.68 388.5v-6M281.7 44.5v3.5M281.7 388.5v-3.5M306.72 44.5v3.5M306.72 388.5v-3.5M331.74 44.5v3.5M331.74 388.5v-3.5M356.77 44.5v3.5M356.77 388.5v-3.5M381.79 44.5v6M381.79 388.5v-6M406.81 44.5v3.5M406.81 388.5v-3.5M431.83 44.5v3.5M431.83 388.5v-3.5M456.85 44.5v3.5M456.85 388.5v-3.5M481.87 44.5v3.5M481.87 388.5v-3.5M506.89 44.5v6M506.89 388.5v-6M531.91 44.5v3.5M531.91 388.5v-3.5M556.94 44.5v3.5M556.94 388.5v-3.5M581.96 44.5v3.5M581.96 388.5v-3.5M606.98 44.5v3.5M606.98 388.5v-3.5M632 44.5v6M632 388.5v-6M44 377.5h6M632 377.5h-6M44 344.68h3.5M632 344.68h-3.5M44 311.86h6M632 311.86h-6M44 279.04h3.5M632 279.04h-3.5M44 246.22h6M632 246.22h-6M44 213.4h3.5M632 213.4h-3.5M44 180.58h6M632 180.58h-6M44 147.76h3.5M632 147.76h-3.5M44 114.94h6M632 114.94h-6M44 82.12h3.5M632 82.12h-3.5M44 49.3h6M632 49.3h-6" stroke="#000" stroke-width="1" fill="none"/>
<text class="t" x="131.57" y="402" text-anchor="middle">5</text>
<text class="t" x="256.68" y="402" text-anchor="middle">10</text>
<text class="t" x="381.79" y="402" text-anchor="middle">15</text>
<text class="t" x="506.89" y="402" text-anchor="middle">20</text>
<text class="t" x="632" y="402" text-anchor="middle">25</text>
<text class="t" transform="translate(36.4 377.5) rotate(-90)" text-anchor="middle">0</text>
<text class="t" transform="translate(36.4 311.86) rotate(-90)" text-anchor="middle">20</text>
<text class="t" transform="translate(36.4 246.22) rotate(-90)" text-anchor="middle">40</text>
<text class="t" transform="translate(36.4 180.58) rotate(-90)" text-anchor="middle">60</text>
<text class="t" transform="translate(36.4 114.94) rotate(-90)" text-anchor="middle">80</text>
<text class="t" transform="translate(36.4 49.3) rotate(-90)" text-anchor="middle">100</text>
<text class="s" x="334" y="425" text-anchor="middle">Wavelength (Å)</text>
<text class="s" transform="translate(19.8 225) rotate(-90) scale(1,1.15)" text-anchor="middle">Counts/bin</text>
<text class="h" x="335.5" y="474.7" text-anchor="middle">HEG <tspan font-size="11" dx="0.5" dy="0.7">+−</tspan><tspan dx="0.8" dy="-0.7">1; binsize </tspan><tspan font-size="11" dx="0.5" dy="0.7">=</tspan><tspan dx="0.5" dy="-0.7"> 0.01Å</tspan></text>
<svg x="44" y="497.5" width="589" height="344" viewBox="44 497.5 589 344">
<path d="M44.2 782.55V817.77M44.61 806.12V834.88M45.01 795.95V824.71M45.42 795.95V824.71M45.82 806.12V834.88M46.23 806.12V834.88M46.64 806.12V834.88M47.04 806.12V834.88M47.45 795.95V824.71M47.85 806.12V834.88M48.26 795.95V824.71M48.66 806.12V834.88M49.07 806.12V834.88M49.47 795.95V824.71M49.88 782.55V817.77M50.29 806.12V834.88M50.69 806.12V834.88M51.1 806.12V834.88M51.5 744.74V794.56M51.91 806.12V834.88M52.31 782.55V817.77M52.72 769.65V810.33M53.12 769.65V810.33M53.53 782.55V817.77M53.94 757.08V802.56M54.34 769.65V810.33M54.75 769.65V810.33M55.15 708.63V769.65M55.56 769.65V810.33M55.96 732.57V786.39M56.37 732.57V786.39M56.77 757.08V802.56M57.18 708.63V769.65M57.58 720.54V778.08M57.99 593.11V681.77M58.4 732.57V786.39M58.8 673.4V743.86M59.21 744.74V794.56M59.61 744.74V794.56M60.02 696.81V761.13M60.42 696.81V761.13M60.83 732.57V786.39M61.23 708.63V769.65M61.64 503.24V608.92M62.05 685.07V752.53M62.45 732.57V786.39M62.86 673.4V743.86M63.26 732.57V786.39M63.67 673.4V743.86M64.07 673.4V743.86M64.48 757.08V802.56M64.88 685.07V752.53M65.29 685.07V752.53M65.7 757.08V802.56M66.1 661.79V735.13M66.51 757.08V802.56M66.91 696.81V761.13M67.32 615.85V699.71M67.72 769.65V810.33M68.13 708.63V769.65M68.53 615.85V699.71M68.94 696.81V761.13M69.34 732.57V786.39M69.75 732.57V786.39M70.16 685.07V752.53M70.56 650.24V726.34M70.97 757.08V802.56M71.37 685.07V752.53M71.78 661.79V735.13M72.18 673.4V743.86M72.59 708.63V769.65M72.99 732.57V786.39M73.4 685.07V752.53M73.81 744.74V794.56M74.21 661.79V735.13M74.62 769.65V810.33M75.02 720.54V778.08M75.43 720.54V778.08M75.83 720.54V778.08M76.24 696.81V761.13M76.64 673.4V743.86M77.05 685.07V752.53M77.46 720.54V778.08M77.86 720.54V778.08M78.27 673.4V743.86M78.67 638.73V717.51M79.08 627.27V708.63M79.48 627.27V708.63M79.89 720.54V778.08M80.29 638.73V717.51M80.7 696.81V761.13M81.1 708.63V769.65M81.51 627.27V708.63M81.92 732.57V786.39M82.32 673.4V743.86M82.73 685.07V752.53M83.13 627.27V708.63M83.54 708.63V769.65M83.94 696.81V761.13M84.35 661.79V735.13M84.75 708.63V769.65M85.16 627.27V708.63M85.57 720.54V778.08M85.97 720.54V778.08M86.38 673.4V743.86M86.78 685.07V752.53M87.19 627.27V708.63M87.59 720.54V778.08M88 685.07V752.53M88.4 685.07V752.53M88.81 673.4V743.86M89.22 650.24V726.34M89.62 661.79V735.13M90.03 650.24V726.34M90.43 638.73V717.51M90.84 720.54V778.08M91.24 673.4V743.86M91.65 696.81V761.13M92.05 696.81V761.13M92.46 720.54V778.08M92.86 673.4V743.86M93.27 661.79V735.13M93.68 685.07V752.53M94.08 673.4V743.86M94.49 708.63V769.65M94.89 650.24V726.34M95.3 732.57V786.39M95.7 650.24V726.34M96.11 685.07V752.53M96.51 732.57V786.39M96.92 673.4V743.86M97.33 720.54V778.08M97.73 732.57V786.39M98.14 638.73V717.51M98.54 744.74V794.56M98.95 696.81V761.13M99.35 673.4V743.86M99.76 696.81V761.13M100.16 650.24V726.34M100.57 757.08V802.56M100.98 661.79V735.13M101.38 685.07V752.53M101.79 685.07V752.53M102.19 708.63V769.65M102.6 685.07V752.53M103 673.4V743.86M103.41 615.85V699.71M103.81 744.74V794.56M104.22 627.27V708.63M104.62 708.63V769.65M105.03 744.74V794.56M105.44 696.81V761.13M105.84 650.24V726.34M106.25 720.54V778.08M106.65 627.27V708.63M107.06 757.08V802.56M107.46 696.81V761.13M107.87 673.4V743.86M108.27 673.4V743.86M108.68 627.27V708.63M109.09 708.63V769.65M109.49 661.79V735.13M109.9 696.81V761.13M110.3 696.81V761.13M110.71 661.79V735.13M111.11 627.27V708.63M111.52 732.57V786.39M111.92 593.11V681.77M112.33 685.07V752.53M112.74 708.63V769.65M113.14 661.79V735.13M113.55 650.24V726.34M113.95 720.54V778.08M114.36 661.79V735.13M114.76 744.74V794.56M115.17 661.79V735.13M115.57 661.79V735.13M115.98 744.74V794.56M116.38 685.07V752.53M116.79 685.07V752.53M117.2 696.81V761.13M117.6 708.63V769.65M118.01 685.07V752.53M118.41 696.81V761.13M118.82 615.85V699.71M119.22 615.85V699.71M119.63 685.07V752.53M120.03 650.24V726.34M120.44 673.4V743.86M120.85 732.57V786.39M121.25 650.24V726.34M121.66 732.57V786.39M122.06 720.54V778.08M122.47 685.07V752.53M122.87 744.74V794.56M123.28 673.4V743.86M123.68 757.08V802.56M124.09 696.81V761.13M124.5 720.54V778.08M124.9 696.81V761.13M125.31 708.63V769.65M125.71 661.79V735.13M126.12 696.81V761.13M126.52 732.57V786.39M126.93 720.54V778.08M127.33 650.24V726.34M127.74 744.74V794.56M128.14 696.81V761.13M128.55 673.4V743.86M128.96 673.4V743.86M129.36 673.4V743.86M129.77 720.54V778.08M130.17 744.74V794.56M130.58 708.63V769.65M130.98 673.4V743.86M131.39 782.55V817.77M131.79 732.57V786.39M132.2 696.81V761.13M132.61 685.07V752.53M133.01 769.65V810.33M133.42 685.07V752.53M133.82 744.74V794.56M134.23 732.57V786.39M134.63 696.81V761.13M135.04 673.4V743.86M135.44 673.4V743.86M135.85 673.4V743.86M136.26 661.79V735.13M136.66 757.08V802.56M137.07 708.63V769.65M137.47 732.57V786.39M137.88 685.07V752.53M138.28 757.08V802.56M138.69 744.74V794.56M139.09 708.63V769.65M139.5 696.81V761.13M139.9 744.74V794.56M140.31 732.57V786.39M140.72 685.07V752.53M141.12 757.08V802.56M141.53 673.4V743.86M141.93 720.54V778.08M142.34 708.63V769.65M142.74 696.81V761.13M143.15 720.54V778.08M143.55 720.54V778.08M143.96 696.81V761.13M144.37 615.85V699.71M144.77 615.85V699.71M145.18 732.57V786.39M145.58 696.81V761.13M145.99 732.57V786.39M146.39 696.81V761.13M146.8 708.63V769.65M147.2 696.81V761.13M147.61 696.81V761.13M148.02 720.54V778.08M148.42 615.85V699.71M148.83 732.57V786.39M149.23 744.74V794.56M149.64 732.57V786.39M150.04 685.07V752.53M150.45 708.63V769.65M150.85 708.63V769.65M151.26 696.81V761.13M151.66 782.55V817.77M152.07 696.81V761.13M152.48 782.55V817.77M152.88 769.65V810.33M153.29 708.63V769.65M153.69 782.55V817.77M154.1 744.74V794.56M154.5 757.08V802.56M154.91 708.63V769.65M155.31 757.08V802.56M155.72 757.08V802.56M156.13 757.08V802.56M156.53 685.07V752.53M156.94 782.55V817.77M157.34 782.55V817.77M157.75 782.55V817.77M158.15 757.08V802.56M158.56 769.65V810.33M158.96 757.08V802.56M159.37 795.95V824.71M159.78 769.65V810.33M160.18 757.08V802.56M160.59 782.55V817.77M160.99 708.63V769.65M161.4 795.95V824.71M161.8 720.54V778.08M162.21 720.54V778.08M162.61 795.95V824.71M163.02 744.74V794.56M163.42 732.57V786.39M163.83 732.57V786.39M164.24 769.65V810.33M164.64 744.74V794.56M165.05 795.95V824.71M165.45 782.55V817.77M165.86 782.55V817.77M166.26 782.55V817.77M166.67 757.08V802.56M167.07 769.65V810.33M167.48 744.74V794.56M167.89 795.95V824.71M168.29 769.65V810.33M168.7 769.65V810.33M169.1 757.08V802.56M169.51 795.95V824.71M169.91 782.55V817.77M170.32 795.95V824.71M170.72 795.95V824.71M171.13 782.55V817.77M171.54 806.12V834.88M171.94 744.74V794.56M172.35 806.12V834.88M172.75 795.95V824.71M173.16 795.95V824.71M173.56 795.95V824.71M173.97 782.55V817.77M174.37 638.73V717.51M174.78 769.65V810.33M175.18 795.95V824.71M175.59 769.65V810.33M176 795.95V824.71M176.4 757.08V802.56M176.81 806.12V834.88M177.21 782.55V817.77M177.62 806.12V834.88M178.02 757.08V802.56M178.43 757.08V802.56M178.83 806.12V834.88M179.24 769.65V810.33M179.65 769.65V810.33M180.05 806.12V834.88M180.46 795.95V824.71M180.86 782.55V817.77M181.27 782.55V817.77M181.67 795.95V824.71M182.08 795.95V824.71M182.48 769.65V810.33M182.89 732.57V786.39M183.3 806.12V834.88M183.7 795.95V824.71M184.11 757.08V802.56M184.51 795.95V824.71M184.92 769.65V810.33M185.32 782.55V817.77M185.73 806.12V834.88M186.13 795.95V824.71M186.54 795.95V824.71M186.94 795.95V824.71M187.35 650.24V726.34M187.76 769.65V810.33M188.16 769.65V810.33M188.57 769.65V810.33M188.97 782.55V817.77M189.38 795.95V824.71M189.78 795.95V824.71M190.19 782.55V817.77M190.59 732.57V786.39M191 795.95V824.71M191.41 795.95V824.71M191.81 795.95V824.71M192.22 744.74V794.56M192.62 795.95V824.71M193.03 782.55V817.77M193.43 795.95V824.71M193.84 757.08V802.56M194.24 769.65V810.33M194.65 782.55V817.77M195.06 708.63V769.65M195.46 806.12V834.88M195.87 769.65V810.33M196.27 806.12V834.88M196.68 795.95V824.71M197.08 795.95V824.71M197.49 769.65V810.33M197.89 782.55V817.77M198.3 757.08V802.56M198.7 806.12V834.88M199.11 806.12V834.88M199.52 782.55V817.77M199.92 769.65V810.33M200.33 795.95V824.71M200.73 782.55V817.77M201.14 782.55V817.77M201.54 795.95V824.71M201.95 744.74V794.56M202.35 795.95V824.71M202.76 769.65V810.33M203.17 795.95V824.71M203.57 782.55V817.77M203.98 782.55V817.77M204.38 806.12V834.88M204.79 782.55V817.77M205.19 769.65V810.33M205.6 769.65V810.33M206 806.12V834.88M206.41 782.55V817.77M206.82 769.65V810.33M207.22 795.95V824.71M207.63 806.12V834.88M208.03 795.95V824.71M208.44 769.65V810.33M208.84 782.55V817.77M209.25 769.65V810.33M209.65 806.12V834.88M210.06 795.95V824.71M210.46 769.65V810.33M210.87 795.95V824.71M211.28 769.65V810.33M211.68 769.65V810.33M212.09 782.55V817.77M212.49 757.08V802.56M212.9 757.08V802.56M213.3 708.63V769.65M213.71 806.12V834.88M214.11 795.95V824.71M214.52 782.55V817.77M214.93 782.55V817.77M215.33 795.95V824.71M215.74 769.65V810.33M216.14 782.55V817.77M216.55 795.95V824.71M216.95 806.12V834.88M217.36 806.12V834.88M217.76 769.65V810.33M218.17 732.57V786.39M218.58 806.12V834.88M218.98 795.95V824.71M219.39 782.55V817.77M219.79 782.55V817.77M220.2 769.65V810.33M220.6 757.08V802.56M221.01 795.95V824.71M221.41 782.55V817.77M221.82 782.55V817.77M222.22 744.74V794.56M222.63 806.12V834.88M223.04 795.95V824.71M223.44 782.55V817.77M223.85 795.95V824.71M224.25 795.95V824.71M224.66 795.95V824.71M225.06 769.65V810.33M225.47 806.12V834.88M225.87 769.65V810.33M226.28 782.55V817.77M226.69 757.08V802.56M227.09 806.12V834.88M227.5 795.95V824.71M227.9 782.55V817.77M228.31 769.65V810.33M228.71 769.65V810.33M229.12 782.55V817.77M229.52 782.55V817.77M229.93 757.08V802.56M230.34 795.95V824.71M230.74 769.65V810.33M231.15 757.08V802.56M231.55 795.95V824.71M231.96 720.54V778.08M232.36 795.95V824.71M232.77 795.95V824.71M233.17 782.55V817.77M233.58 547.99V645.53M233.98 782.55V817.77M234.39 769.65V810.33M234.8 769.65V810.33M235.2 769.65V810.33M235.61 769.65V810.33M236.01 769.65V810.33M236.42 769.65V810.33M236.82 782.55V817.77M237.23 782.55V817.77M237.63 757.08V802.56M238.04 795.95V824.71M238.45 769.65V810.33M238.85 769.65V810.33M239.26 769.65V810.33M239.66 769.65V810.33M240.07 782.55V817.77M240.47 782.55V817.77M240.88 732.57V786.39M241.28 795.95V824.71M241.69 782.55V817.77M242.1 769.65V810.33M242.5 782.55V817.77M242.91 769.65V810.33M243.31 769.65V810.33M243.72 782.55V817.77M244.12 744.74V794.56M244.53 806.12V834.88M244.93 795.95V824.71M245.34 795.95V824.71M245.74 769.65V810.33M246.15 782.55V817.77M246.56 782.55V817.77M246.96 782.55V817.77M247.37 769.65V810.33M247.77 795.95V824.71M248.18 782.55V817.77M248.58 744.74V794.56M248.99 806.12V834.88M249.39 732.57V786.39M249.8 806.12V834.88M250.21 795.95V824.71M250.61 769.65V810.33M251.02 782.55V817.77M251.42 795.95V824.71M251.83 782.55V817.77M252.23 696.81V761.13M252.64 795.95V824.71M253.04 732.57V786.39M253.45 782.55V817.77M253.86 757.08V802.56M254.26 757.08V802.56M254.67 782.55V817.77M255.07 782.55V817.77M255.48 782.55V817.77M255.88 757.08V802.56M256.29 650.24V726.34M256.69 782.55V817.77M257.1 782.55V817.77M257.5 782.55V817.77M257.91 757.08V802.56M258.32 732.57V786.39M258.72 782.55V817.77M259.13 782.55V817.77M259.53 769.65V810.33M259.94 795.95V824.71M260.34 769.65V810.33M260.75 782.55V817.77M261.15 720.54V778.08M261.56 806.12V834.88M261.97 806.12V834.88M262.37 782.55V817.77M262.78 782.55V817.77M263.18 795.95V824.71M263.59 782.55V817.77M263.99 782.55V817.77M264.4 782.55V817.77M264.8 744.74V794.56M265.21 806.12V834.88M265.62 782.55V817.77M266.02 795.95V824.71M266.43 795.95V824.71M266.83 782.55V817.77M267.24 757.08V802.56M267.64 806.12V834.88M268.05 795.95V824.71M268.45 757.08V802.56M268.86 782.55V817.77M269.26 782.55V817.77M269.67 769.65V810.33M270.08 782.55V817.77M270.48 795.95V824.71M270.89 769.65V810.33M271.29 732.57V786.39M271.7 806.12V834.88M272.1 769.65V810.33M272.51 806.12V834.88M272.91 795.95V824.71M273.32 795.95V824.71M273.73 769.65V810.33M274.13 720.54V778.08M274.54 795.95V824.71M274.94 795.95V824.71M275.35 782.55V817.77M275.75 795.95V824.71M276.16 782.55V817.77M276.56 782.55V817.77M276.97 795.95V824.71M277.38 732.57V786.39M277.78 806.12V834.88M278.19 806.12V834.88M278.59 782.55V817.77M279 795.95V824.71M279.4 795.95V824.71M279.81 795.95V824.71M280.21 769.65V810.33M280.62 806.12V834.88M281.02 769.65V810.33M281.43 782.55V817.77M281.84 795.95V824.71M282.24 782.55V817.77M282.65 806.12V834.88M283.05 806.12V834.88M283.46 806.12V834.88M283.86 795.95V824.71M284.27 795.95V824.71M284.67 795.95V824.71M285.08 806.12V834.88M285.49 769.65V810.33M285.89 769.65V810.33M286.3 806.12V834.88M286.7 795.95V824.71M287.11 795.95V824.71M287.51 782.55V817.77M287.92 795.95V824.71M288.32 806.12V834.88M288.73 806.12V834.88M289.14 806.12V834.88M289.54 795.95V824.71M289.95 782.55V817.77M290.35 806.12V834.88M290.76 806.12V834.88M291.16 806.12V834.88M291.57 769.65V810.33M291.97 806.12V834.88M292.38 795.95V824.71M292.78 795.95V824.71M293.19 795.95V824.71M293.6 782.55V817.77M294 806.12V834.88M294.41 782.55V817.77M294.81 806.12V834.88M295.22 806.12V834.88M295.62 795.95V824.71M296.03 782.55V817.77M296.43 795.95V824.71M296.84 806.12V834.88M297.25 806.12V834.88M297.65 806.12V834.88M298.06 782.55V817.77M298.46 806.12V834.88M298.87 782.55V817.77M299.27 806.12V834.88M299.68 806.12V834.88M300.08 795.95V824.71M300.49 769.65V810.33M300.9 782.55V817.77M301.3 732.57V786.39M301.71 795.95V824.71M302.11 769.65V810.33M302.52 769.65V810.33M302.92 795.95V824.71M303.33 769.65V810.33M303.73 782.55V817.77M304.14 806.12V834.88M304.54 795.95V824.71M304.95 795.95V824.71M305.36 782.55V817.77M305.76 795.95V824.71M306.17 769.65V810.33M306.57 806.12V834.88M306.98 806.12V834.88M307.38 806.12V834.88M307.79 806.12V834.88M308.19 806.12V834.88M308.6 806.12V834.88M309.01 795.95V824.71M309.41 769.65V810.33M309.82 806.12V834.88M310.22 795.95V824.71M310.63 769.65V810.33M311.03 806.12V834.88M311.44 806.12V834.88M311.84 795.95V824.71M312.25 795.95V824.71M312.66 806.12V834.88M313.06 769.65V810.33M313.47 806.12V834.88M313.87 795.95V824.71M314.28 806.12V834.88M314.68 795.95V824.71M315.09 795.95V824.71M315.49 795.95V824.71M315.9 806.12V834.88M316.3 795.95V824.71M316.71 806.12V834.88M317.12 795.95V824.71M317.52 806.12V834.88M317.93 795.95V824.71M318.33 806.12V834.88M318.74 806.12V834.88M319.14 782.55V817.77M319.55 806.12V834.88M319.95 782.55V817.77M320.36 806.12V834.88M320.77 795.95V824.71M321.17 806.12V834.88M321.58 806.12V834.88M321.98 795.95V824.71M322.39 782.55V817.77M322.79 757.08V802.56M323.2 806.12V834.88M323.6 795.95V824.71M324.01 806.12V834.88M324.42 744.74V794.56M324.82 806.12V834.88M325.23 806.12V834.88M325.63 769.65V810.33M326.04 795.95V824.71M326.44 806.12V834.88M326.85 795.95V824.71M327.25 795.95V824.71M327.66 806.12V834.88M328.06 806.12V834.88M328.47 806.12V834.88M328.88 806.12V834.88M329.28 795.95V824.71M329.69 782.55V817.77M330.09 806.12V834.88M330.5 782.55V817.77M330.9 795.95V824.71M331.31 806.12V834.88M331.71 795.95V824.71M332.12 806.12V834.88M332.53 806.12V834.88M332.93 782.55V817.77M333.34 806.12V834.88M333.74 806.12V834.88M334.15 806.12V834.88M334.55 806.12V834.88M334.96 806.12V834.88M335.36 795.95V824.71M335.77 806.12V834.88M336.18 806.12V834.88M336.58 795.95V824.71M336.99 806.12V834.88M337.39 782.55V817.77M337.8 795.95V824.71M338.2 806.12V834.88M338.61 782.55V817.77M339.01 757.08V802.56M339.42 806.12V834.88M339.82 782.55V817.77M340.23 806.12V834.88M340.64 782.55V817.77M341.04 795.95V824.71M341.45 795.95V824.71M341.85 806.12V834.88M342.26 806.12V834.88M342.66 806.12V834.88M343.07 806.12V834.88M343.47 806.12V834.88M343.88 795.95V824.71M344.29 782.55V817.77M344.69 806.12V834.88M345.1 806.12V834.88M345.5 782.55V817.77M345.91 795.95V824.71M346.31 795.95V824.71M346.72 795.95V824.71M347.12 795.95V824.71M347.53 806.12V834.88M347.94 806.12V834.88M348.34 782.55V817.77M348.75 806.12V834.88M349.15 806.12V834.88M349.56 806.12V834.88M349.96 795.95V824.71M350.37 795.95V824.71M350.77 795.95V824.71M351.18 806.12V834.88M351.58 782.55V817.77M351.99 806.12V834.88M352.4 806.12V834.88M352.8 795.95V824.71M353.21 806.12V834.88M353.61 806.12V834.88M354.02 795.95V824.71M354.42 806.12V834.88M354.83 795.95V824.71M355.23 806.12V834.88M355.64 806.12V834.88M356.05 795.95V824.71M356.45 806.12V834.88M356.86 806.12V834.88M357.26 795.95V824.71M357.67 806.12V834.88M358.07 806.12V834.88M358.48 782.55V817.77M358.88 795.95V824.71M359.29 806.12V834.88M359.7 806.12V834.88M360.1 806.12V834.88M360.51 782.55V817.77M360.91 806.12V834.88M361.32 806.12V834.88M361.72 782.55V817.77M362.13 795.95V824.71M362.53 795.95V824.71M362.94 806.12V834.88M363.34 806.12V834.88M363.75 795.95V824.71M364.16 806.12V834.88M364.56 795.95V824.71M364.97 806.12V834.88M365.37 795.95V824.71M365.78 806.12V834.88M366.18 806.12V834.88M366.59 782.55V817.77M366.99 806.12V834.88M367.4 795.95V824.71M367.81 806.12V834.88M368.21 795.95V824.71M368.62 806.12V834.88M369.02 806.12V834.88M369.43 806.12V834.88M369.83 806.12V834.88M370.24 795.95V824.71M370.64 806.12V834.88M371.05 782.55V817.77M371.46 806.12V834.88M371.86 806.12V834.88M372.27 806.12V834.88M372.67 806.12V834.88M373.08 806.12V834.88M373.48 795.95V824.71M373.89 806.12V834.88M374.29 806.12V834.88M374.7 806.12V834.88M375.1 806.12V834.88M375.51 806.12V834.88M375.92 806.12V834.88M376.32 795.95V824.71M376.73 806.12V834.88M377.13 806.12V834.88M377.54 795.95V824.71M377.94 806.12V834.88M378.35 806.12V834.88M378.75 795.95V824.71M379.16 806.12V834.88M379.57 806.12V834.88M379.97 795.95V824.71M380.38 806.12V834.88M380.78 795.95V824.71M381.19 795.95V824.71M381.59 806.12V834.88M382 795.95V824.71M382.4 806.12V834.88M382.81 806.12V834.88M383.22 795.95V824.71M383.62 806.12V834.88M384.03 806.12V834.88M384.43 795.95V824.71M384.84 806.12V834.88M385.24 806.12V834.88M385.65 795.95V824.71M386.05 806.12V834.88M386.46 806.12V834.88M386.86 806.12V834.88M387.27 806.12V834.88M387.68 806.12V834.88M388.08 782.55V817.77M388.49 806.12V834.88M388.89 806.12V834.88M389.3 806.12V834.88M389.7 806.12V834.88M390.11 806.12V834.88M390.51 806.12V834.88M390.92 806.12V834.88M391.33 806.12V834.88M391.73 806.12V834.88M392.14 806.12V834.88M392.54 806.12V834.88M392.95 806.12V834.88M393.35 806.12V834.88M393.76 806.12V834.88M394.16 806.12V834.88M394.57 806.12V834.88M394.98 806.12V834.88M395.38 806.12V834.88M395.79 782.55V817.77M396.19 806.12V834.88M396.6 806.12V834.88M397 806.12V834.88M397.41 806.12V834.88M397.81 806.12V834.88M398.22 806.12V834.88M398.62 806.12V834.88M399.03 806.12V834.88M399.44 806.12V834.88M399.84 806.12V834.88M400.25 806.12V834.88M400.65 806.12V834.88M401.06 806.12V834.88M401.46 806.12V834.88M401.87 806.12V834.88M402.27 806.12V834.88M402.68 806.12V834.88M403.09 806.12V834.88M403.49 806.12V834.88M403.9 806.12V834.88M404.3 806.12V834.88M404.71 806.12V834.88M405.11 806.12V834.88M405.52 806.12V834.88M405.92 806.12V834.88M406.33 806.12V834.88M406.74 795.95V824.71M407.14 795.95V824.71M407.55 795.95V824.71M407.95 806.12V834.88M408.36 806.12V834.88M408.76 795.95V824.71M409.17 806.12V834.88M409.57 806.12V834.88M409.98 806.12V834.88M410.38 806.12V834.88M410.79 795.95V824.71M411.2 806.12V834.88M411.6 806.12V834.88M412.01 806.12V834.88M412.41 795.95V824.71M412.82 806.12V834.88M413.22 806.12V834.88M413.63 806.12V834.88M414.03 806.12V834.88M414.44 806.12V834.88M414.85 806.12V834.88M415.25 806.12V834.88M415.66 806.12V834.88M416.06 806.12V834.88M416.47 806.12V834.88M416.87 806.12V834.88M417.28 806.12V834.88M417.68 806.12V834.88M418.09 806.12V834.88M418.5 806.12V834.88M418.9 795.95V824.71M419.31 806.12V834.88M419.71 806.12V834.88M420.12 795.95V824.71M420.52 806.12V834.88M420.93 806.12V834.88M421.33 806.12V834.88M421.74 806.12V834.88M422.14 806.12V834.88M422.55 806.12V834.88M422.96 806.12V834.88M423.36 806.12V834.88M423.77 806.12V834.88M424.17 806.12V834.88M424.58 806.12V834.88M424.98 806.12V834.88M425.39 806.12V834.88M425.79 806.12V834.88M426.2 806.12V834.88M426.61 806.12V834.88M427.01 806.12V834.88M427.42 806.12V834.88M427.82 806.12V834.88M428.23 806.12V834.88M428.63 806.12V834.88M429.04 806.12V834.88M429.44 806.12V834.88M429.85 806.12V834.88M430.26 806.12V834.88M430.66 806.12V834.88M431.07 806.12V834.88M431.47 806.12V834.88M431.88 806.12V834.88M432.28 806.12V834.88M432.69 806.12V834.88M433.09 806.12V834.88M433.5 806.12V834.88M433.9 795.95V824.71M434.31 806.12V834.88M434.72 806.12V834.88M435.12 806.12V834.88M435.53 806.12V834.88M435.93 806.12V834.88M436.34 806.12V834.88M436.74 806.12V834.88M437.15 806.12V834.88M437.55 806.12V834.88M437.96 806.12V834.88M438.37 806.12V834.88M438.77 806.12V834.88M439.18 806.12V834.88M439.58 806.12V834.88M439.99 806.12V834.88M440.39 806.12V834.88M440.8 806.12V834.88M441.2 806.12V834.88M441.61 806.12V834.88M442.02 806.12V834.88M442.42 806.12V834.88M442.83 806.12V834.88M443.23 806.12V834.88M443.64 806.12V834.88M444.04 806.12V834.88M444.45 806.12V834.88M444.85 806.12V834.88M445.26 806.12V834.88M445.66 806.12V834.88M446.07 806.12V834.88M446.48 806.12V834.88M446.88 806.12V834.88M447.29 806.12V834.88M447.69 806.12V834.88M448.1 806.12V834.88M448.5 806.12V834.88M448.91 806.12V834.88M449.31 806.12V834.88M449.72 806.12V834.88M450.13 795.95V824.71M450.53 806.12V834.88M450.94 806.12V834.88M451.34 806.12V834.88M451.75 806.12V834.88M452.15 806.12V834.88M452.56 806.12V834.88M452.96 806.12V834.88M453.37 806.12V834.88M453.78 806.12V834.88M454.18 806.12V834.88M454.59 806.12V834.88M454.99 806.12V834.88M455.4 806.12V834.88M455.8 806.12V834.88M456.21 806.12V834.88M456.61 806.12V834.88M457.02 806.12V834.88M457.42 806.12V834.88M457.83 806.12V834.88M458.24 806.12V834.88M458.64 806.12V834.88M459.05 806.12V834.88M459.45 806.12V834.88M459.86 806.12V834.88M460.26 806.12V834.88M460.67 806.12V834.88M461.07 806.12V834.88M461.48 806.12V834.88M461.89 806.12V834.88M462.29 806.12V834.88M462.7 806.12V834.88M463.1 806.12V834.88M463.51 806.12V834.88M463.91 806.12V834.88M464.32 806.12V834.88M464.72 806.12V834.88M465.13 806.12V834.88M465.54 806.12V834.88M465.94 806.12V834.88M466.35 806.12V834.88M466.75 806.12V834.88M467.16 806.12V834.88M467.56 806.12V834.88M467.97 806.12V834.88M468.37 806.12V834.88M468.78 806.12V834.88M469.18 806.12V834.88M469.59 806.12V834.88M470 806.12V834.88M470.4 806.12V834.88M470.81 806.12V834.88M471.21 806.12V834.88M471.62 806.12V834.88M472.02 806.12V834.88M472.43 806.12V834.88M472.83 806.12V834.88M473.24 806.12V834.88M473.65 806.12V834.88M474.05 806.12V834.88M474.46 806.12V834.88M474.86 806.12V834.88M475.27 806.12V834.88M475.67 806.12V834.88M476.08 806.12V834.88M476.48 806.12V834.88M476.89 806.12V834.88M477.3 806.12V834.88M477.7 806.12V834.88M478.11 806.12V834.88M478.51 806.12V834.88M478.92 806.12V834.88M479.32 806.12V834.88M479.73 806.12V834.88M480.13 806.12V834.88M480.54 806.12V834.88M480.94 806.12V834.88M481.35 806.12V834.88M481.76 806.12V834.88M482.16 806.12V834.88M482.57 806.12V834.88M482.97 806.12V834.88M483.38 806.12V834.88M483.78 806.12V834.88M484.19 806.12V834.88M484.59 806.12V834.88M485 806.12V834.88M485.41 806.12V834.88M485.81 806.12V834.88M486.22 806.12V834.88M486.62 806.12V834.88M487.03 806.12V834.88M487.43 806.12V834.88M487.84 806.12V834.88M488.24 806.12V834.88M488.65 806.12V834.88M489.06 806.12V834.88M489.46 806.12V834.88M489.87 806.12V834.88M490.27 806.12V834.88M490.68 806.12V834.88M491.08 806.12V834.88M491.49 806.12V834.88M491.89 806.12V834.88M492.3 806.12V834.88M492.7 806.12V834.88M493.11 806.12V834.88M493.52 806.12V834.88M493.92 806.12V834.88M494.33 806.12V834.88M494.73 806.12V834.88M495.14 806.12V834.88M495.54 806.12V834.88M495.95 806.12V834.88M496.35 806.12V834.88M496.76 806.12V834.88M497.17 806.12V834.88M497.57 806.12V834.88M497.98 806.12V834.88M498.38 806.12V834.88M498.79 806.12V834.88M499.19 806.12V834.88M499.6 806.12V834.88M500 806.12V834.88M500.41 806.12V834.88M500.82 806.12V834.88M501.22 806.12V834.88M501.63 806.12V834.88M502.03 806.12V834.88M502.44 806.12V834.88M502.84 806.12V834.88M503.25 806.12V834.88M503.65 806.12V834.88M504.06 806.12V834.88M504.46 806.12V834.88M504.87 806.12V834.88M505.28 806.12V834.88M505.68 806.12V834.88M506.09 806.12V834.88M506.49 806.12V834.88M506.9 806.12V834.88M507.3 806.12V834.88M507.71 806.12V834.88M508.11 806.12V834.88M508.52 806.12V834.88M508.93 806.12V834.88M509.33 806.12V834.88M509.74 806.12V834.88M510.14 806.12V834.88M510.55 806.12V834.88M510.95 806.12V834.88M511.36 806.12V834.88M511.76 806.12V834.88M512.17 806.12V834.88M512.58 806.12V834.88M512.98 806.12V834.88M513.39 806.12V834.88M513.79 806.12V834.88M514.2 806.12V834.88M514.6 806.12V834.88M515.01 806.12V834.88M515.41 806.12V834.88M515.82 806.12V834.88M516.22 806.12V834.88M516.63 806.12V834.88M517.04 806.12V834.88M517.44 806.12V834.88M517.85 806.12V834.88M518.25 806.12V834.88M518.66 806.12V834.88M519.06 806.12V834.88M519.47 806.12V834.88M519.87 806.12V834.88M520.28 806.12V834.88M520.69 806.12V834.88M521.09 806.12V834.88M521.5 806.12V834.88M521.9 806.12V834.88M522.31 806.12V834.88M522.71 806.12V834.88M523.12 806.12V834.88M523.52 806.12V834.88M523.93 806.12V834.88M524.34 806.12V834.88M524.74 806.12V834.88M525.15 806.12V834.88M525.55 806.12V834.88M525.96 806.12V834.88M526.36 806.12V834.88M526.77 806.12V834.88M527.17 806.12V834.88M527.58 806.12V834.88M527.98 806.12V834.88M528.39 806.12V834.88M528.8 806.12V834.88M529.2 806.12V834.88M529.61 806.12V834.88M530.01 806.12V834.88M530.42 806.12V834.88M530.82 806.12V834.88M531.23 806.12V834.88M531.63 806.12V834.88M532.04 806.12V834.88M532.45 806.12V834.88M532.85 806.12V834.88M533.26 806.12V834.88M533.66 806.12V834.88M534.07 806.12V834.88M534.47 806.12V834.88M534.88 806.12V834.88M535.28 806.12V834.88M535.69 806.12V834.88M536.1 806.12V834.88M536.5 806.12V834.88M536.91 806.12V834.88M537.31 806.12V834.88M537.72 806.12V834.88M538.12 806.12V834.88M538.53 806.12V834.88M538.93 806.12V834.88M539.34 806.12V834.88M539.74 806.12V834.88M540.15 806.12V834.88M540.56 806.12V834.88M540.96 806.12V834.88M541.37 806.12V834.88M541.77 806.12V834.88M542.18 806.12V834.88M542.58 806.12V834.88M542.99 806.12V834.88M543.39 806.12V834.88M543.8 806.12V834.88M544.21 806.12V834.88M544.61 806.12V834.88M545.02 806.12V834.88M545.42 806.12V834.88M545.83 806.12V834.88M546.23 806.12V834.88M546.64 806.12V834.88M547.04 806.12V834.88M547.45 806.12V834.88M547.86 806.12V834.88M548.26 806.12V834.88M548.67 806.12V834.88M549.07 806.12V834.88M549.48 806.12V834.88M549.88 806.12V834.88M550.29 806.12V834.88M550.69 806.12V834.88M551.1 806.12V834.88M551.5 806.12V834.88M551.91 806.12V834.88M552.32 806.12V834.88M552.72 806.12V834.88M553.13 806.12V834.88M553.53 806.12V834.88M553.94 806.12V834.88M554.34 806.12V834.88M554.75 806.12V834.88M555.15 806.12V834.88M555.56 806.12V834.88M555.97 806.12V834.88M556.37 806.12V834.88M556.78 806.12V834.88M557.18 806.12V834.88M557.59 806.12V834.88M557.99 806.12V834.88M558.4 806.12V834.88M558.8 806.12V834.88M559.21 806.12V834.88M559.62 806.12V834.88M560.02 806.12V834.88M560.43 806.12V834.88M560.83 806.12V834.88M561.24 806.12V834.88M561.64 806.12V834.88M562.05 806.12V834.88M562.45 806.12V834.88M562.86 806.12V834.88M563.26 806.12V834.88M563.67 806.12V834.88M564.08 806.12V834.88M564.48 806.12V834.88M564.89 806.12V834.88M565.29 806.12V834.88M565.7 806.12V834.88M566.1 806.12V834.88M566.51 806.12V834.88M566.91 806.12V834.88M567.32 806.12V834.88M567.73 806.12V834.88M568.13 806.12V834.88M568.54 806.12V834.88M568.94 806.12V834.88M569.35 806.12V834.88M569.75 806.12V834.88M570.16 806.12V834.88M570.56 806.12V834.88M570.97 806.12V834.88M571.38 806.12V834.88M571.78 806.12V834.88M572.19 806.12V834.88M572.59 806.12V834.88M573 806.12V834.88M573.4 806.12V834.88M573.81 806.12V834.88M574.21 806.12V834.88M574.62 806.12V834.88M575.02 806.12V834.88M575.43 806.12V834.88M575.84 806.12V834.88M576.24 806.12V834.88M576.65 806.12V834.88M577.05 806.12V834.88M577.46 806.12V834.88M577.86 806.12V834.88M578.27 806.12V834.88M578.67 806.12V834.88M579.08 806.12V834.88M579.49 806.12V834.88M579.89 806.12V834.88M580.3 806.12V834.88M580.7 806.12V834.88M581.11 806.12V834.88M581.51 806.12V834.88M581.92 806.12V834.88M582.32 806.12V834.88M582.73 806.12V834.88M583.14 806.12V834.88M583.54 806.12V834.88M583.95 806.12V834.88M584.35 806.12V834.88M584.76 806.12V834.88M585.16 806.12V834.88M585.57 806.12V834.88M585.97 806.12V834.88M586.38 806.12V834.88M586.78 806.12V834.88M587.19 806.12V834.88M587.6 806.12V834.88M588 806.12V834.88M588.41 806.12V834.88M588.81 806.12V834.88M589.22 806.12V834.88M589.62 806.12V834.88M590.03 806.12V834.88M590.43 806.12V834.88M590.84 806.12V834.88M591.25 806.12V834.88M591.65 806.12V834.88M592.06 806.12V834.88M592.46 806.12V834.88M592.87 806.12V834.88M593.27 806.12V834.88M593.68 806.12V834.88M594.08 806.12V834.88M594.49 806.12V834.88M594.9 806.12V834.88M595.3 806.12V834.88M595.71 806.12V834.88M596.11 806.12V834.88M596.52 806.12V834.88M596.92 806.12V834.88M597.33 806.12V834.88M597.73 806.12V834.88M598.14 806.12V834.88M598.54 806.12V834.88M598.95 806.12V834.88M599.36 806.12V834.88M599.76 806.12V834.88M600.17 806.12V834.88M600.57 806.12V834.88M600.98 806.12V834.88M601.38 806.12V834.88M601.79 806.12V834.88M602.19 806.12V834.88M602.6 806.12V834.88M603.01 806.12V834.88M603.41 806.12V834.88M603.82 806.12V834.88M604.22 806.12V834.88M604.63 806.12V834.88M605.03 806.12V834.88M605.44 806.12V834.88M605.84 806.12V834.88M606.25 806.12V834.88M606.66 806.12V834.88M607.06 806.12V834.88M607.47 806.12V834.88M607.87 806.12V834.88M608.28 806.12V834.88M608.68 806.12V834.88M609.09 806.12V834.88M609.49 806.12V834.88M609.9 806.12V834.88M610.3 806.12V834.88M610.71 806.12V834.88M611.12 806.12V834.88M611.52 806.12V834.88M611.93 806.12V834.88M612.33 806.12V834.88M612.74 806.12V834.88M613.14 806.12V834.88M613.55 806.12V834.88M613.95 806.12V834.88M614.36 806.12V834.88M614.77 806.12V834.88M615.17 806.12V834.88M615.58 806.12V834.88M615.98 806.12V834.88M616.39 806.12V834.88M616.79 806.12V834.88M617.2 806.12V834.88M617.6 806.12V834.88M618.01 806.12V834.88M618.42 806.12V834.88M618.82 806.12V834.88M619.23 806.12V834.88M619.63 806.12V834.88M620.04 806.12V834.88M620.44 806.12V834.88M620.85 806.12V834.88M621.25 806.12V834.88M621.66 806.12V834.88M622.06 806.12V834.88M622.47 806.12V834.88M622.88 806.12V834.88M623.28 806.12V834.88M623.69 806.12V834.88M624.09 806.12V834.88M624.5 806.12V834.88M624.9 806.12V834.88M625.31 806.12V834.88M625.71 806.12V834.88M626.12 806.12V834.88M626.53 806.12V834.88M626.93 806.12V834.88M627.34 806.12V834.88M627.74 806.12V834.88M628.15 806.12V834.88M628.55 806.12V834.88M628.96 806.12V834.88M629.36 806.12V834.88M629.77 806.12V834.88M630.18 806.12V834.88M630.58 806.12V834.88M630.99 806.12V834.88M631.39 806.12V834.88M631.8 806.12V834.88" stroke="#bebebe" stroke-width="0.75" fill="none"/>
<path d="M44 800.16H44.41V820.5H44.81V810.33H45.62V820.5H47.24V810.33H47.65V820.5H48.06V810.33H48.46V820.5H49.27V810.33H49.68V800.16H50.08V820.5H51.3V769.65H51.7V820.5H52.11V800.16H52.52V789.99H53.33V800.16H53.73V779.82H54.14V789.99H54.95V739.14H55.35V789.99H55.76V759.48H56.57V779.82H56.98V739.14H57.38V749.31H57.79V637.44H58.19V759.48H58.6V708.63H59V769.65H59.82V728.97H60.63V759.48H61.03V739.14H61.44V556.08H61.84V718.8H62.25V759.48H62.65V708.63H63.06V759.48H63.46V708.63H64.28V779.82H64.68V718.8H65.49V779.82H65.9V698.46H66.3V779.82H66.71V728.97H67.11V657.78H67.52V789.99H67.93V739.14H68.33V657.78H68.74V728.97H69.14V759.48H69.95V718.8H70.36V688.29H70.76V779.82H71.17V718.8H71.58V698.46H71.98V708.63H72.39V739.14H72.79V759.48H73.2V718.8H73.6V769.65H74.01V698.46H74.41V789.99H74.82V749.31H76.04V728.97H76.44V708.63H76.85V718.8H77.25V749.31H78.06V708.63H78.47V678.12H78.87V667.95H79.69V749.31H80.09V678.12H80.5V728.97H80.9V739.14H81.31V667.95H81.71V759.48H82.12V708.63H82.52V718.8H82.93V667.95H83.34V739.14H83.74V728.97H84.15V698.46H84.55V739.14H84.96V667.95H85.36V749.31H86.17V708.63H86.58V718.8H86.98V667.95H87.39V749.31H87.8V718.8H88.61V708.63H89.01V688.29H89.42V698.46H89.82V688.29H90.23V678.12H90.63V749.31H91.04V708.63H91.45V728.97H92.26V749.31H92.66V708.63H93.07V698.46H93.47V718.8H93.88V708.63H94.28V739.14H94.69V688.29H95.1V759.48H95.5V688.29H95.91V718.8H96.31V759.48H96.72V708.63H97.12V749.31H97.53V759.48H97.93V678.12H98.34V769.65H98.74V728.97H99.15V708.63H99.56V728.97H99.96V688.29H100.37V779.82H100.77V698.46H101.18V718.8H101.99V739.14H102.39V718.8H102.8V708.63H103.21V657.78H103.61V769.65H104.02V667.95H104.42V739.14H104.83V769.65H105.23V728.97H105.64V688.29H106.04V749.31H106.45V667.95H106.86V779.82H107.26V728.97H107.67V708.63H108.48V667.95H108.88V739.14H109.29V698.46H109.69V728.97H110.5V698.46H110.91V667.95H111.32V759.48H111.72V637.44H112.13V718.8H112.53V739.14H112.94V698.46H113.34V688.29H113.75V749.31H114.15V698.46H114.56V769.65H114.97V698.46H115.78V769.65H116.18V718.8H116.99V728.97H117.4V739.14H117.8V718.8H118.21V728.97H118.62V657.78H119.43V718.8H119.83V688.29H120.24V708.63H120.64V759.48H121.05V688.29H121.45V759.48H121.86V749.31H122.26V718.8H122.67V769.65H123.08V708.63H123.48V779.82H123.89V728.97H124.29V749.31H124.7V728.97H125.1V739.14H125.51V698.46H125.91V728.97H126.32V759.48H126.73V749.31H127.13V688.29H127.54V769.65H127.94V728.97H128.35V708.63H129.56V749.31H129.97V769.65H130.38V739.14H130.78V708.63H131.19V800.16H131.59V759.48H132V728.97H132.4V718.8H132.81V789.99H133.21V718.8H133.62V769.65H134.02V759.48H134.43V728.97H134.84V708.63H136.05V698.46H136.46V779.82H136.86V739.14H137.27V759.48H137.67V718.8H138.08V779.82H138.49V769.65H138.89V739.14H139.3V728.97H139.7V769.65H140.11V759.48H140.51V718.8H140.92V779.82H141.32V708.63H141.73V749.31H142.14V739.14H142.54V728.97H142.95V749.31H143.76V728.97H144.16V657.78H144.97V759.48H145.38V728.97H145.78V759.48H146.19V728.97H146.6V739.14H147V728.97H147.81V749.31H148.22V657.78H148.62V759.48H149.03V769.65H149.43V759.48H149.84V718.8H150.25V739.14H151.06V728.97H151.46V800.16H151.87V728.97H152.27V800.16H152.68V789.99H153.08V739.14H153.49V800.16H153.9V769.65H154.3V779.82H154.71V739.14H155.11V779.82H156.33V718.8H156.73V800.16H157.95V779.82H158.36V789.99H158.76V779.82H159.17V810.33H159.57V789.99H159.98V779.82H160.38V800.16H160.79V739.14H161.19V810.33H161.6V749.31H162.41V810.33H162.82V769.65H163.22V759.48H164.03V789.99H164.44V769.65H164.84V810.33H165.25V800.16H166.47V779.82H166.87V789.99H167.28V769.65H167.68V810.33H168.09V789.99H168.9V779.82H169.3V810.33H169.71V800.16H170.12V810.33H170.93V800.16H171.33V820.5H171.74V769.65H172.14V820.5H172.55V810.33H173.77V800.16H174.17V678.12H174.58V789.99H174.98V810.33H175.39V789.99H175.79V810.33H176.2V779.82H176.6V820.5H177.01V800.16H177.42V820.5H177.82V779.82H178.63V820.5H179.04V789.99H179.85V820.5H180.25V810.33H180.66V800.16H181.47V810.33H182.28V789.99H182.69V759.48H183.09V820.5H183.5V810.33H183.9V779.82H184.31V810.33H184.71V789.99H185.12V800.16H185.53V820.5H185.93V810.33H187.15V688.29H187.55V789.99H188.77V800.16H189.18V810.33H189.99V800.16H190.39V759.48H190.8V810.33H192.01V769.65H192.42V810.33H192.82V800.16H193.23V810.33H193.64V779.82H194.04V789.99H194.45V800.16H194.85V739.14H195.26V820.5H195.66V789.99H196.07V820.5H196.47V810.33H197.29V789.99H197.69V800.16H198.1V779.82H198.5V820.5H199.31V800.16H199.72V789.99H200.12V810.33H200.53V800.16H201.34V810.33H201.75V769.65H202.15V810.33H202.56V789.99H202.96V810.33H203.37V800.16H204.18V820.5H204.58V800.16H204.99V789.99H205.8V820.5H206.21V800.16H206.61V789.99H207.02V810.33H207.42V820.5H207.83V810.33H208.23V789.99H208.64V800.16H209.05V789.99H209.45V820.5H209.86V810.33H210.26V789.99H210.67V810.33H211.07V789.99H211.88V800.16H212.29V779.82H213.1V739.14H213.51V820.5H213.91V810.33H214.32V800.16H215.13V810.33H215.53V789.99H215.94V800.16H216.34V810.33H216.75V820.5H217.56V789.99H217.97V759.48H218.37V820.5H218.78V810.33H219.18V800.16H219.99V789.99H220.4V779.82H220.81V810.33H221.21V800.16H222.02V769.65H222.43V820.5H222.83V810.33H223.24V800.16H223.64V810.33H224.86V789.99H225.27V820.5H225.67V789.99H226.08V800.16H226.48V779.82H226.89V820.5H227.29V810.33H227.7V800.16H228.1V789.99H228.92V800.16H229.73V779.82H230.13V810.33H230.54V789.99H230.94V779.82H231.35V810.33H231.75V749.31H232.16V810.33H232.97V800.16H233.38V596.76H233.78V800.16H234.19V789.99H236.62V800.16H237.43V779.82H237.84V810.33H238.24V789.99H239.86V800.16H240.68V759.48H241.08V810.33H241.49V800.16H241.89V789.99H242.3V800.16H242.7V789.99H243.51V800.16H243.92V769.65H244.33V820.5H244.73V810.33H245.54V789.99H245.95V800.16H247.16V789.99H247.57V810.33H247.98V800.16H248.38V769.65H248.79V820.5H249.19V759.48H249.6V820.5H250V810.33H250.41V789.99H250.81V800.16H251.22V810.33H251.62V800.16H252.03V728.97H252.44V810.33H252.84V759.48H253.25V800.16H253.65V779.82H254.46V800.16H255.68V779.82H256.09V688.29H256.49V800.16H257.71V779.82H258.11V759.48H258.52V800.16H259.33V789.99H259.74V810.33H260.14V789.99H260.55V800.16H260.95V749.31H261.36V820.5H262.17V800.16H262.98V810.33H263.38V800.16H264.6V769.65H265.01V820.5H265.41V800.16H265.82V810.33H266.63V800.16H267.03V779.82H267.44V820.5H267.85V810.33H268.25V779.82H268.66V800.16H269.47V789.99H269.87V800.16H270.28V810.33H270.68V789.99H271.09V759.48H271.5V820.5H271.9V789.99H272.31V820.5H272.71V810.33H273.52V789.99H273.93V749.31H274.33V810.33H275.14V800.16H275.55V810.33H275.96V800.16H276.77V810.33H277.17V759.48H277.58V820.5H278.39V800.16H278.79V810.33H280.01V789.99H280.42V820.5H280.82V789.99H281.23V800.16H281.63V810.33H282.04V800.16H282.44V820.5H283.66V810.33H284.88V820.5H285.28V789.99H286.09V820.5H286.5V810.33H287.31V800.16H287.72V810.33H288.12V820.5H289.34V810.33H289.74V800.16H290.15V820.5H291.37V789.99H291.77V820.5H292.18V810.33H293.39V800.16H293.8V820.5H294.2V800.16H294.61V820.5H295.42V810.33H295.83V800.16H296.23V810.33H296.64V820.5H297.85V800.16H298.26V820.5H298.66V800.16H299.07V820.5H299.88V810.33H300.29V789.99H300.69V800.16H301.1V759.48H301.5V810.33H301.91V789.99H302.72V810.33H303.13V789.99H303.53V800.16H303.94V820.5H304.34V810.33H305.15V800.16H305.56V810.33H305.96V789.99H306.37V820.5H308.8V810.33H309.21V789.99H309.61V820.5H310.02V810.33H310.42V789.99H310.83V820.5H311.64V810.33H312.45V820.5H312.86V789.99H313.26V820.5H313.67V810.33H314.07V820.5H314.48V810.33H315.7V820.5H316.1V810.33H316.51V820.5H316.91V810.33H317.32V820.5H317.72V810.33H318.13V820.5H318.94V800.16H319.35V820.5H319.75V800.16H320.16V820.5H320.56V810.33H320.97V820.5H321.78V810.33H322.18V800.16H322.59V779.82H323V820.5H323.4V810.33H323.81V820.5H324.21V769.65H324.62V820.5H325.43V789.99H325.83V810.33H326.24V820.5H326.65V810.33H327.46V820.5H329.08V810.33H329.48V800.16H329.89V820.5H330.3V800.16H330.7V810.33H331.11V820.5H331.51V810.33H331.92V820.5H332.73V800.16H333.13V820.5H335.16V810.33H335.57V820.5H336.38V810.33H336.78V820.5H337.19V800.16H337.59V810.33H338V820.5H338.41V800.16H338.81V779.82H339.22V820.5H339.62V800.16H340.03V820.5H340.43V800.16H340.84V810.33H341.65V820.5H343.68V810.33H344.08V800.16H344.49V820.5H345.3V800.16H345.7V810.33H347.33V820.5H348.14V800.16H348.54V820.5H349.76V810.33H350.98V820.5H351.38V800.16H351.79V820.5H352.6V810.33H353V820.5H353.82V810.33H354.22V820.5H354.63V810.33H355.03V820.5H355.84V810.33H356.25V820.5H357.06V810.33H357.46V820.5H358.28V800.16H358.68V810.33H359.09V820.5H360.3V800.16H360.71V820.5H361.52V800.16H361.93V810.33H362.74V820.5H363.55V810.33H363.95V820.5H364.36V810.33H364.76V820.5H365.17V810.33H365.58V820.5H366.39V800.16H366.79V820.5H367.2V810.33H367.6V820.5H368.01V810.33H368.41V820.5H370.04V810.33H370.44V820.5H370.85V800.16H371.25V820.5H373.28V810.33H373.69V820.5H376.12V810.33H376.52V820.5H377.34V810.33H377.74V820.5H378.55V810.33H378.96V820.5H379.77V810.33H380.17V820.5H380.58V810.33H381.39V820.5H381.8V810.33H382.2V820.5H383.01V810.33H383.42V820.5H384.23V810.33H384.63V820.5H385.45V810.33H385.85V820.5H387.88V800.16H388.28V820.5H395.58V800.16H395.99V820.5H406.53V810.33H407.75V820.5H408.56V810.33H408.97V820.5H410.59V810.33H410.99V820.5H412.21V810.33H412.62V820.5H418.7V810.33H419.1V820.5H419.91V810.33H420.32V820.5H433.7V810.33H434.11V820.5H449.92V810.33H450.33V820.5H632" stroke="#000" stroke-width="3.0" fill="none" stroke-linejoin="round" stroke-linecap="butt"/>
<path d="M44.62 820.5H48.24M233.19 789.99H237.62M237.24 789.99H240.86M305.37 820.5H309.8M326.46 820.5H330.08M332.13 820.5H336.16M340.65 820.5H344.68M344.7 810.33H348.33M367.41 820.5H371.04M370.25 820.5H374.28M372.69 820.5H377.12M384.85 820.5H388.88M387.28 820.5H396.58M394.99 820.5H407.53M407.97 820.5H411.59M411.62 820.5H419.7M419.32 820.5H434.7M433.11 820.5H450.92M449.33 820.5H633" stroke="#000" stroke-width="3" fill="none"/>
<path d="M66.79 686.43V781.46M76.38 735.22V783.79M86.17 676.59V737.22M94.2 712.52V737.13M99.21 699.99V757.04M106.63 699.98V767.63M115.46 703.8V761.97M121.04 682.11V735.72M128.4 712.89V757.42M137.06 720.4V766.7M143.73 693.18V734.55M153.49 749.58V778.37M160.52 753.28V797.22M193.29 761.09V797.87M212.66 765.35V803.35M251.48 754.35V813.95M259.34 767.7V803.95" stroke="#fff" stroke-opacity="0.4" stroke-width="0.45" fill="none"/>
</svg>
<rect x="44" y="497.5" width="588" height="344" fill="none" stroke="#000" stroke-width="1"/>
<path d="M64.28 497.5v6M64.28 841.5v-6M104.83 497.5v3.5M104.83 841.5v-3.5M145.38 497.5v6M145.38 841.5v-6M185.93 497.5v3.5M185.93 841.5v-3.5M226.48 497.5v6M226.48 841.5v-6M267.03 497.5v3.5M267.03 841.5v-3.5M307.59 497.5v6M307.59 841.5v-6M348.14 497.5v3.5M348.14 841.5v-3.5M388.69 497.5v6M388.69 841.5v-6M429.24 497.5v3.5M429.24 841.5v-3.5M469.79 497.5v6M469.79 841.5v-6M510.34 497.5v3.5M510.34 841.5v-3.5M550.9 497.5v6M550.9 841.5v-6M591.45 497.5v3.5M591.45 841.5v-3.5M632 497.5v6M632 841.5v-6M44 820.5h6M632 820.5h-6M44 800.16h3.5M632 800.16h-3.5M44 779.82h3.5M632 779.82h-3.5M44 759.48h3.5M632 759.48h-3.5M44 739.14h3.5M632 739.14h-3.5M44 718.8h6M632 718.8h-6M44 698.46h3.5M632 698.46h-3.5M44 678.12h3.5M632 678.12h-3.5M44 657.78h3.5M632 657.78h-3.5M44 637.44h3.5M632 637.44h-3.5M44 617.1h6M632 617.1h-6M44 596.76h3.5M632 596.76h-3.5M44 576.42h3.5M632 576.42h-3.5M44 556.08h3.5M632 556.08h-3.5M44 535.74h3.5M632 535.74h-3.5M44 515.4h6M632 515.4h-6" stroke="#000" stroke-width="1" fill="none"/>
<text class="t" x="64.28" y="855" text-anchor="middle">2</text>
<text class="t" x="145.38" y="855" text-anchor="middle">4</text>
<text class="t" x="226.48" y="855" text-anchor="middle">6</text>
<text class="t" x="307.59" y="855" text-anchor="middle">8</text>
<text class="t" x="388.69" y="855" text-anchor="middle">10</text>
<text class="t" x="469.79" y="855" text-anchor="middle">12</text>
<text class="t" x="550.9" y="855" text-anchor="middle">14</text>
<text class="t" x="632" y="855" text-anchor="middle">16</text>
<text class="t" transform="translate(36.4 820.5) rotate(-90)" text-anchor="middle">0</text>
<text class="t" transform="translate(36.4 718.8) rotate(-90)" text-anchor="middle">10</text>
<text class="t" transform="translate(36.4 617.1) rotate(-90)" text-anchor="middle">20</text>
<text class="t" transform="translate(36.4 515.4) rotate(-90)" text-anchor="middle">30</text>
<text class="s" x="334" y="878" text-anchor="middle">Wavelength (Å)</text>
<text class="s" transform="translate(19.8 678) rotate(-90) scale(1,1.15)" text-anchor="middle">Counts/bin</text>
</svg></body></html>
